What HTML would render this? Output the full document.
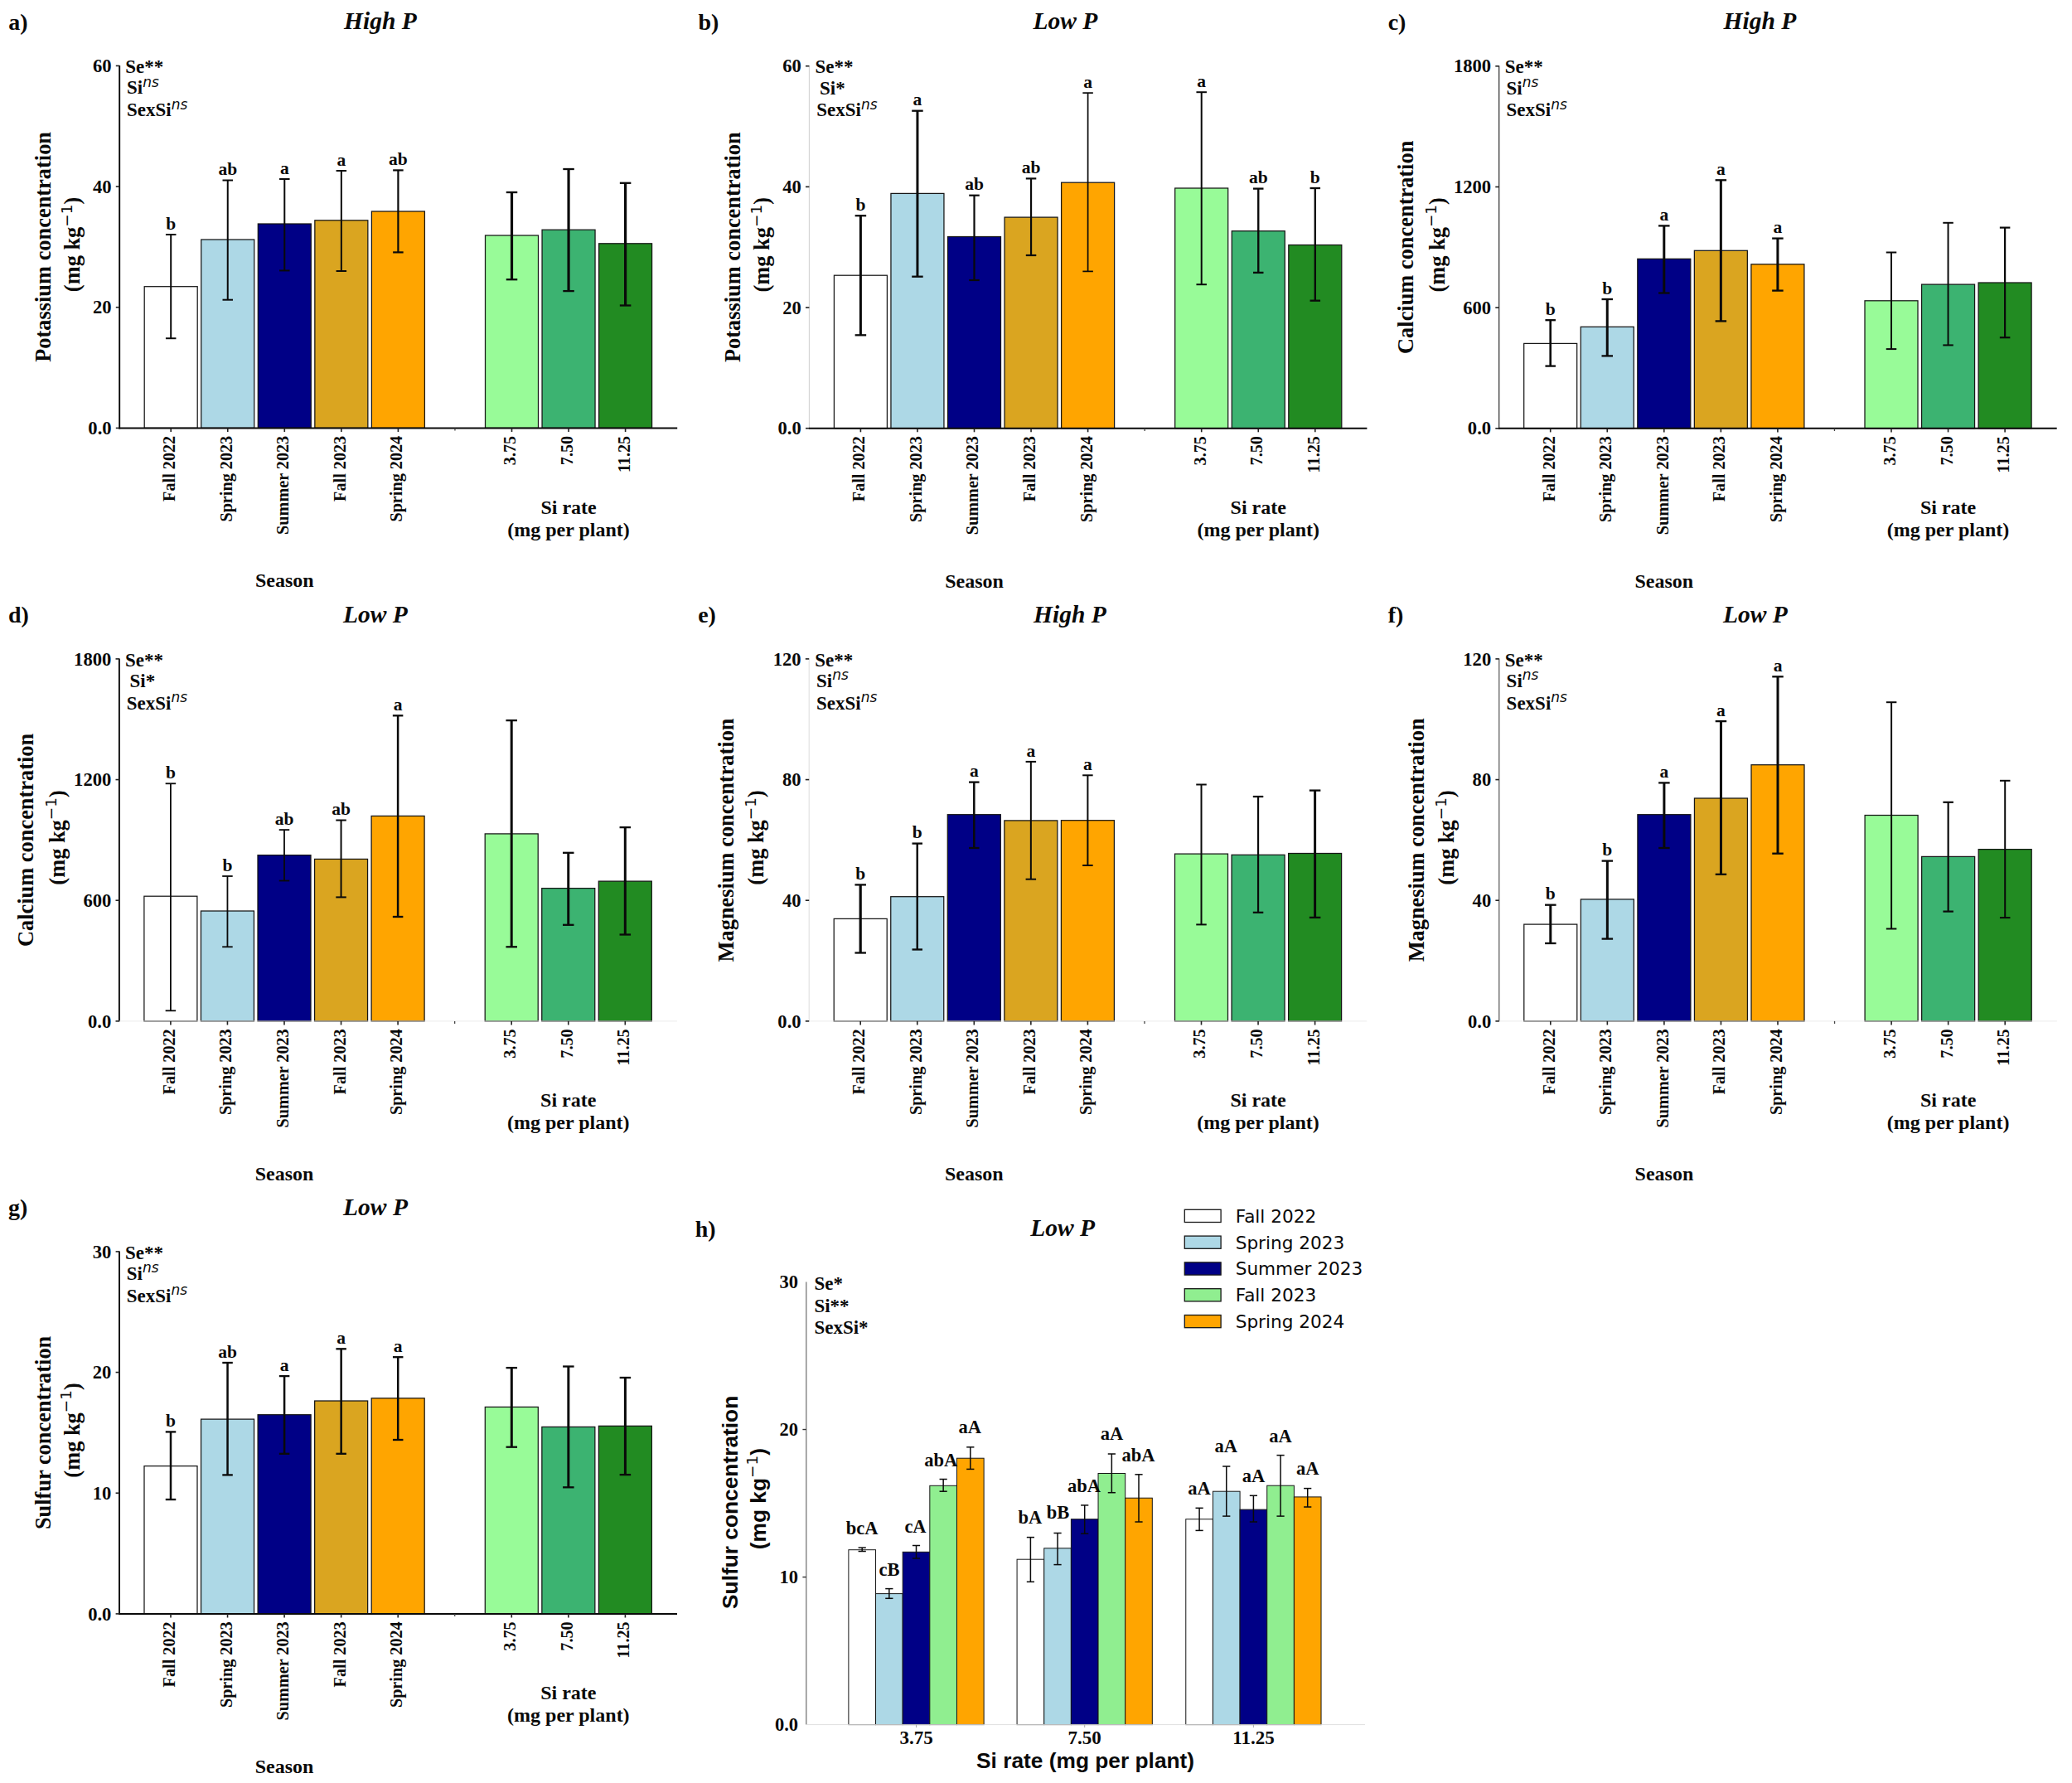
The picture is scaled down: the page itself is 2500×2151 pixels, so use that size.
<!DOCTYPE html>
<html lang="en"><head><meta charset="utf-8"><title>Figure</title>
<style>html,body{margin:0;padding:0;background:#fff;}svg{display:block;}text{white-space:pre;}</style></head>
<body>
<svg width="2500" height="2151" viewBox="0 0 2500 2151">
<rect x="0" y="0" width="2500" height="2151" fill="#ffffff"/>
<g>
<rect x="174.2" y="345.7" width="64" height="170.7" fill="#ffffff" stroke="#161616" stroke-width="1.25"/>
<rect x="242.75" y="289" width="64" height="227.4" fill="#ADD8E6" stroke="#161616" stroke-width="1.25"/>
<rect x="311.3" y="270" width="64" height="246.4" fill="#000086" stroke="#161616" stroke-width="1.25"/>
<rect x="379.85" y="265.8" width="64" height="250.6" fill="#DAA520" stroke="#161616" stroke-width="1.25"/>
<rect x="448.4" y="255" width="64" height="261.4" fill="#FFA500" stroke="#161616" stroke-width="1.25"/>
<rect x="585.5" y="284" width="64" height="232.4" fill="#98FB98" stroke="#161616" stroke-width="1.25"/>
<rect x="654.05" y="277.2" width="64" height="239.2" fill="#3CB371" stroke="#161616" stroke-width="1.25"/>
<rect x="722.6" y="293.8" width="64" height="222.6" fill="#228B22" stroke="#161616" stroke-width="1.25"/>
<line x1="206.2" y1="283" x2="206.2" y2="408.2" stroke="#0a0a0a" stroke-width="2" stroke-linecap="butt"/>
<line x1="199.95" y1="283" x2="212.45" y2="283" stroke="#0a0a0a" stroke-width="2" stroke-linecap="butt"/>
<line x1="199.95" y1="408.2" x2="212.45" y2="408.2" stroke="#0a0a0a" stroke-width="2" stroke-linecap="butt"/>
<text x="206.2" y="276.7" font-family='"Liberation Serif", "DejaVu Serif", serif' font-size="21.5" font-weight="bold" font-style="normal" text-anchor="middle" fill="#0a0a0a">b</text>
<line x1="274.75" y1="217.5" x2="274.75" y2="361.7" stroke="#0a0a0a" stroke-width="2" stroke-linecap="butt"/>
<line x1="268.5" y1="217.5" x2="281" y2="217.5" stroke="#0a0a0a" stroke-width="2" stroke-linecap="butt"/>
<line x1="268.5" y1="361.7" x2="281" y2="361.7" stroke="#0a0a0a" stroke-width="2" stroke-linecap="butt"/>
<text x="274.75" y="211.2" font-family='"Liberation Serif", "DejaVu Serif", serif' font-size="21.5" font-weight="bold" font-style="normal" text-anchor="middle" fill="#0a0a0a">ab</text>
<line x1="343.3" y1="216" x2="343.3" y2="326.4" stroke="#0a0a0a" stroke-width="2" stroke-linecap="butt"/>
<line x1="337.05" y1="216" x2="349.55" y2="216" stroke="#0a0a0a" stroke-width="2" stroke-linecap="butt"/>
<line x1="337.05" y1="326.4" x2="349.55" y2="326.4" stroke="#0a0a0a" stroke-width="2" stroke-linecap="butt"/>
<text x="343.3" y="209.7" font-family='"Liberation Serif", "DejaVu Serif", serif' font-size="21.5" font-weight="bold" font-style="normal" text-anchor="middle" fill="#0a0a0a">a</text>
<line x1="411.85" y1="206" x2="411.85" y2="327" stroke="#0a0a0a" stroke-width="2" stroke-linecap="butt"/>
<line x1="405.6" y1="206" x2="418.1" y2="206" stroke="#0a0a0a" stroke-width="2" stroke-linecap="butt"/>
<line x1="405.6" y1="327" x2="418.1" y2="327" stroke="#0a0a0a" stroke-width="2" stroke-linecap="butt"/>
<text x="411.85" y="199.7" font-family='"Liberation Serif", "DejaVu Serif", serif' font-size="21.5" font-weight="bold" font-style="normal" text-anchor="middle" fill="#0a0a0a">a</text>
<line x1="480.4" y1="205.4" x2="480.4" y2="304.4" stroke="#0a0a0a" stroke-width="2.2" stroke-linecap="butt"/>
<line x1="474.15" y1="205.4" x2="486.65" y2="205.4" stroke="#0a0a0a" stroke-width="2.2" stroke-linecap="butt"/>
<line x1="474.15" y1="304.4" x2="486.65" y2="304.4" stroke="#0a0a0a" stroke-width="2.2" stroke-linecap="butt"/>
<text x="480.4" y="199.1" font-family='"Liberation Serif", "DejaVu Serif", serif' font-size="21.5" font-weight="bold" font-style="normal" text-anchor="middle" fill="#0a0a0a">ab</text>
<line x1="617.5" y1="232" x2="617.5" y2="337.2" stroke="#0a0a0a" stroke-width="3.2" stroke-linecap="butt"/>
<line x1="610.75" y1="232" x2="624.25" y2="232" stroke="#0a0a0a" stroke-width="2.3" stroke-linecap="butt"/>
<line x1="610.75" y1="337.2" x2="624.25" y2="337.2" stroke="#0a0a0a" stroke-width="2.3" stroke-linecap="butt"/>
<line x1="686.05" y1="204" x2="686.05" y2="351.1" stroke="#0a0a0a" stroke-width="3.2" stroke-linecap="butt"/>
<line x1="679.3" y1="204" x2="692.8" y2="204" stroke="#0a0a0a" stroke-width="2.3" stroke-linecap="butt"/>
<line x1="679.3" y1="351.1" x2="692.8" y2="351.1" stroke="#0a0a0a" stroke-width="2.3" stroke-linecap="butt"/>
<line x1="754.6" y1="220.8" x2="754.6" y2="368.5" stroke="#0a0a0a" stroke-width="3.2" stroke-linecap="butt"/>
<line x1="747.85" y1="220.8" x2="761.35" y2="220.8" stroke="#0a0a0a" stroke-width="2.3" stroke-linecap="butt"/>
<line x1="747.85" y1="368.5" x2="761.35" y2="368.5" stroke="#0a0a0a" stroke-width="2.3" stroke-linecap="butt"/>
<line x1="144.2" y1="78.9" x2="144.2" y2="517.4" stroke="#0a0a0a" stroke-width="1.9" stroke-linecap="butt"/>
<line x1="143.25" y1="516.4" x2="817.2" y2="516.4" stroke="#0a0a0a" stroke-width="2" stroke-linecap="butt"/>
<line x1="139.8" y1="79.4" x2="144.2" y2="79.4" stroke="#222" stroke-width="1.6" stroke-linecap="butt"/>
<text x="134.6" y="87" font-family='"Liberation Serif", "DejaVu Serif", serif' font-size="22.6" font-weight="bold" font-style="normal" text-anchor="end" fill="#0a0a0a">60</text>
<line x1="139.8" y1="225.07" x2="144.2" y2="225.07" stroke="#222" stroke-width="1.6" stroke-linecap="butt"/>
<text x="134.6" y="232.67" font-family='"Liberation Serif", "DejaVu Serif", serif' font-size="22.6" font-weight="bold" font-style="normal" text-anchor="end" fill="#0a0a0a">40</text>
<line x1="139.8" y1="370.73" x2="144.2" y2="370.73" stroke="#222" stroke-width="1.6" stroke-linecap="butt"/>
<text x="134.6" y="378.33" font-family='"Liberation Serif", "DejaVu Serif", serif' font-size="22.6" font-weight="bold" font-style="normal" text-anchor="end" fill="#0a0a0a">20</text>
<line x1="139.8" y1="516.4" x2="144.2" y2="516.4" stroke="#222" stroke-width="1.6" stroke-linecap="butt"/>
<text x="134.6" y="524" font-family='"Liberation Serif", "DejaVu Serif", serif' font-size="22.6" font-weight="bold" font-style="normal" text-anchor="end" fill="#0a0a0a">0.0</text>
<line x1="206.2" y1="516.4" x2="206.2" y2="521" stroke="#222" stroke-width="1.6" stroke-linecap="butt"/>
<text x="211.2" y="525.8" font-family='"Liberation Serif", "DejaVu Serif", serif' font-size="20.2" font-weight="bold" font-style="normal" text-anchor="end" fill="#0a0a0a" transform="rotate(-90 211.2 525.8)">Fall 2022</text>
<line x1="274.75" y1="516.4" x2="274.75" y2="521" stroke="#222" stroke-width="1.6" stroke-linecap="butt"/>
<text x="279.75" y="525.8" font-family='"Liberation Serif", "DejaVu Serif", serif' font-size="20.2" font-weight="bold" font-style="normal" text-anchor="end" fill="#0a0a0a" transform="rotate(-90 279.75 525.8)">Spring 2023</text>
<line x1="343.3" y1="516.4" x2="343.3" y2="521" stroke="#222" stroke-width="1.6" stroke-linecap="butt"/>
<text x="348.3" y="525.8" font-family='"Liberation Serif", "DejaVu Serif", serif' font-size="20.2" font-weight="bold" font-style="normal" text-anchor="end" fill="#0a0a0a" transform="rotate(-90 348.3 525.8)">Summer 2023</text>
<line x1="411.85" y1="516.4" x2="411.85" y2="521" stroke="#222" stroke-width="1.6" stroke-linecap="butt"/>
<text x="416.85" y="525.8" font-family='"Liberation Serif", "DejaVu Serif", serif' font-size="20.2" font-weight="bold" font-style="normal" text-anchor="end" fill="#0a0a0a" transform="rotate(-90 416.85 525.8)">Fall 2023</text>
<line x1="480.4" y1="516.4" x2="480.4" y2="521" stroke="#222" stroke-width="1.6" stroke-linecap="butt"/>
<text x="485.4" y="525.8" font-family='"Liberation Serif", "DejaVu Serif", serif' font-size="20.2" font-weight="bold" font-style="normal" text-anchor="end" fill="#0a0a0a" transform="rotate(-90 485.4 525.8)">Spring 2024</text>
<line x1="617.5" y1="516.4" x2="617.5" y2="521" stroke="#222" stroke-width="1.6" stroke-linecap="butt"/>
<text x="622.5" y="525.8" font-family='"Liberation Serif", "DejaVu Serif", serif' font-size="20.2" font-weight="bold" font-style="normal" text-anchor="end" fill="#0a0a0a" transform="rotate(-90 622.5 525.8)">3.75</text>
<line x1="686.05" y1="516.4" x2="686.05" y2="521" stroke="#222" stroke-width="1.6" stroke-linecap="butt"/>
<text x="691.05" y="525.8" font-family='"Liberation Serif", "DejaVu Serif", serif' font-size="20.2" font-weight="bold" font-style="normal" text-anchor="end" fill="#0a0a0a" transform="rotate(-90 691.05 525.8)">7.50</text>
<line x1="754.6" y1="516.4" x2="754.6" y2="521" stroke="#222" stroke-width="1.6" stroke-linecap="butt"/>
<text x="759.6" y="525.8" font-family='"Liberation Serif", "DejaVu Serif", serif' font-size="20.2" font-weight="bold" font-style="normal" text-anchor="end" fill="#0a0a0a" transform="rotate(-90 759.6 525.8)">11.25</text>
<line x1="548.95" y1="516.4" x2="548.95" y2="519.6" stroke="#444" stroke-width="1.3" stroke-linecap="butt"/>
<text x="343.3" y="708.4" font-family='"Liberation Serif", "DejaVu Serif", serif' font-size="24" font-weight="bold" font-style="normal" text-anchor="middle" fill="#0a0a0a">Season</text>
<text x="686.05" y="619.6" font-family='"Liberation Serif", "DejaVu Serif", serif' font-size="24" font-weight="bold" font-style="normal" text-anchor="middle" fill="#0a0a0a">Si rate</text>
<text x="686.05" y="646.6" font-family='"Liberation Serif", "DejaVu Serif", serif' font-size="24" font-weight="bold" font-style="normal" text-anchor="middle" fill="#0a0a0a">(mg per plant)</text>
<text x="151.2" y="88" font-family='"Liberation Serif", "DejaVu Serif", serif' font-size="23" font-weight="bold" font-style="normal" text-anchor="start" fill="#0a0a0a">Se**</text>
<text x="153" y="113.2" font-family='"Liberation Serif", "DejaVu Serif", serif' font-size="23" font-weight="bold" font-style="normal" text-anchor="start" fill="#0a0a0a">Si<tspan dy="-8.5" font-family='"DejaVu Sans", "Liberation Sans", sans-serif' font-size="17" font-weight="normal" font-style="italic">ns</tspan></text>
<text x="153" y="140" font-family='"Liberation Serif", "DejaVu Serif", serif' font-size="23" font-weight="bold" font-style="normal" text-anchor="start" fill="#0a0a0a">SexSi<tspan dy="-8.5" font-family='"DejaVu Sans", "Liberation Sans", sans-serif' font-size="17" font-weight="normal" font-style="italic">ns</tspan></text>
<text x="458.9" y="35" font-family='"Liberation Serif", "DejaVu Serif", serif' font-size="29.5" font-weight="bold" font-style="italic" text-anchor="middle" fill="#0a0a0a">High P</text>
<text x="10.2" y="35.6" font-family='"Liberation Serif", "DejaVu Serif", serif' font-size="28" font-weight="bold" font-style="normal" text-anchor="start" fill="#0a0a0a">a)</text>
<text x="61.2" y="297.9" font-family='"Liberation Serif", "DejaVu Serif", serif' font-size="26.4" font-weight="bold" font-style="normal" text-anchor="middle" fill="#0a0a0a" transform="rotate(-90 61.2 297.9)">Potassium concentration</text>
<text x="96.2" y="294.9" font-family='"Liberation Serif", "DejaVu Serif", serif' font-size="26.4" font-weight="bold" font-style="normal" text-anchor="middle" fill="#0a0a0a" transform="rotate(-90 96.2 294.9)">(mg kg<tspan dy="-9.5" font-family='"DejaVu Sans", "Liberation Sans", sans-serif' font-size="18.48" font-weight="normal">−1</tspan><tspan dy="9.5">)</tspan></text>
</g>
<g>
<rect x="1006.4" y="332.2" width="64" height="184.5" fill="#ffffff" stroke="#161616" stroke-width="1.25"/>
<rect x="1074.95" y="233.4" width="64" height="283.3" fill="#ADD8E6" stroke="#161616" stroke-width="1.25"/>
<rect x="1143.5" y="285.5" width="64" height="231.2" fill="#000086" stroke="#161616" stroke-width="1.25"/>
<rect x="1212.05" y="262.1" width="64" height="254.6" fill="#DAA520" stroke="#161616" stroke-width="1.25"/>
<rect x="1280.6" y="220.2" width="64" height="296.5" fill="#FFA500" stroke="#161616" stroke-width="1.25"/>
<rect x="1417.7" y="227" width="64" height="289.7" fill="#98FB98" stroke="#161616" stroke-width="1.25"/>
<rect x="1486.25" y="278.7" width="64" height="238" fill="#3CB371" stroke="#161616" stroke-width="1.25"/>
<rect x="1554.8" y="295.5" width="64" height="221.2" fill="#228B22" stroke="#161616" stroke-width="1.25"/>
<line x1="1038.4" y1="260.2" x2="1038.4" y2="404.3" stroke="#0a0a0a" stroke-width="3" stroke-linecap="butt"/>
<line x1="1031.65" y1="260.2" x2="1045.15" y2="260.2" stroke="#0a0a0a" stroke-width="2.3" stroke-linecap="butt"/>
<line x1="1031.65" y1="404.3" x2="1045.15" y2="404.3" stroke="#0a0a0a" stroke-width="2.3" stroke-linecap="butt"/>
<text x="1038.4" y="253.9" font-family='"Liberation Serif", "DejaVu Serif", serif' font-size="21.5" font-weight="bold" font-style="normal" text-anchor="middle" fill="#0a0a0a">b</text>
<line x1="1106.95" y1="133.7" x2="1106.95" y2="333.7" stroke="#0a0a0a" stroke-width="3" stroke-linecap="butt"/>
<line x1="1100.2" y1="133.7" x2="1113.7" y2="133.7" stroke="#0a0a0a" stroke-width="2.3" stroke-linecap="butt"/>
<line x1="1100.2" y1="333.7" x2="1113.7" y2="333.7" stroke="#0a0a0a" stroke-width="2.3" stroke-linecap="butt"/>
<text x="1106.95" y="127.4" font-family='"Liberation Serif", "DejaVu Serif", serif' font-size="21.5" font-weight="bold" font-style="normal" text-anchor="middle" fill="#0a0a0a">a</text>
<line x1="1175.5" y1="235.7" x2="1175.5" y2="338" stroke="#0a0a0a" stroke-width="2.2" stroke-linecap="butt"/>
<line x1="1169.25" y1="235.7" x2="1181.75" y2="235.7" stroke="#0a0a0a" stroke-width="2.2" stroke-linecap="butt"/>
<line x1="1169.25" y1="338" x2="1181.75" y2="338" stroke="#0a0a0a" stroke-width="2.2" stroke-linecap="butt"/>
<text x="1175.5" y="229.4" font-family='"Liberation Serif", "DejaVu Serif", serif' font-size="21.5" font-weight="bold" font-style="normal" text-anchor="middle" fill="#0a0a0a">ab</text>
<line x1="1244.05" y1="215.4" x2="1244.05" y2="308" stroke="#0a0a0a" stroke-width="2.2" stroke-linecap="butt"/>
<line x1="1237.8" y1="215.4" x2="1250.3" y2="215.4" stroke="#0a0a0a" stroke-width="2.2" stroke-linecap="butt"/>
<line x1="1237.8" y1="308" x2="1250.3" y2="308" stroke="#0a0a0a" stroke-width="2.2" stroke-linecap="butt"/>
<text x="1244.05" y="209.1" font-family='"Liberation Serif", "DejaVu Serif", serif' font-size="21.5" font-weight="bold" font-style="normal" text-anchor="middle" fill="#0a0a0a">ab</text>
<line x1="1312.6" y1="112.1" x2="1312.6" y2="327.4" stroke="#0a0a0a" stroke-width="1.7" stroke-linecap="butt"/>
<line x1="1306.35" y1="112.1" x2="1318.85" y2="112.1" stroke="#0a0a0a" stroke-width="1.7" stroke-linecap="butt"/>
<line x1="1306.35" y1="327.4" x2="1318.85" y2="327.4" stroke="#0a0a0a" stroke-width="1.7" stroke-linecap="butt"/>
<text x="1312.6" y="105.8" font-family='"Liberation Serif", "DejaVu Serif", serif' font-size="21.5" font-weight="bold" font-style="normal" text-anchor="middle" fill="#0a0a0a">a</text>
<line x1="1449.7" y1="111.2" x2="1449.7" y2="343.2" stroke="#0a0a0a" stroke-width="2" stroke-linecap="butt"/>
<line x1="1443.45" y1="111.2" x2="1455.95" y2="111.2" stroke="#0a0a0a" stroke-width="2" stroke-linecap="butt"/>
<line x1="1443.45" y1="343.2" x2="1455.95" y2="343.2" stroke="#0a0a0a" stroke-width="2" stroke-linecap="butt"/>
<text x="1449.7" y="104.9" font-family='"Liberation Serif", "DejaVu Serif", serif' font-size="21.5" font-weight="bold" font-style="normal" text-anchor="middle" fill="#0a0a0a">a</text>
<line x1="1518.25" y1="227.6" x2="1518.25" y2="328.9" stroke="#0a0a0a" stroke-width="2.4" stroke-linecap="butt"/>
<line x1="1512" y1="227.6" x2="1524.5" y2="227.6" stroke="#0a0a0a" stroke-width="2.3" stroke-linecap="butt"/>
<line x1="1512" y1="328.9" x2="1524.5" y2="328.9" stroke="#0a0a0a" stroke-width="2.3" stroke-linecap="butt"/>
<text x="1518.25" y="221.3" font-family='"Liberation Serif", "DejaVu Serif", serif' font-size="21.5" font-weight="bold" font-style="normal" text-anchor="middle" fill="#0a0a0a">ab</text>
<line x1="1586.8" y1="227" x2="1586.8" y2="362.7" stroke="#0a0a0a" stroke-width="2.4" stroke-linecap="butt"/>
<line x1="1580.55" y1="227" x2="1593.05" y2="227" stroke="#0a0a0a" stroke-width="2.3" stroke-linecap="butt"/>
<line x1="1580.55" y1="362.7" x2="1593.05" y2="362.7" stroke="#0a0a0a" stroke-width="2.3" stroke-linecap="butt"/>
<text x="1586.8" y="220.7" font-family='"Liberation Serif", "DejaVu Serif", serif' font-size="21.5" font-weight="bold" font-style="normal" text-anchor="middle" fill="#0a0a0a">b</text>
<line x1="976.4" y1="79.2" x2="976.4" y2="517.7" stroke="#c8c8c8" stroke-width="0.9" stroke-linecap="butt"/>
<line x1="975.95" y1="516.7" x2="1649.4" y2="516.7" stroke="#0a0a0a" stroke-width="2" stroke-linecap="butt"/>
<line x1="972" y1="79.7" x2="976.4" y2="79.7" stroke="#222" stroke-width="1.6" stroke-linecap="butt"/>
<text x="966.8" y="87.3" font-family='"Liberation Serif", "DejaVu Serif", serif' font-size="22.6" font-weight="bold" font-style="normal" text-anchor="end" fill="#0a0a0a">60</text>
<line x1="972" y1="225.37" x2="976.4" y2="225.37" stroke="#222" stroke-width="1.6" stroke-linecap="butt"/>
<text x="966.8" y="232.97" font-family='"Liberation Serif", "DejaVu Serif", serif' font-size="22.6" font-weight="bold" font-style="normal" text-anchor="end" fill="#0a0a0a">40</text>
<line x1="972" y1="371.03" x2="976.4" y2="371.03" stroke="#222" stroke-width="1.6" stroke-linecap="butt"/>
<text x="966.8" y="378.63" font-family='"Liberation Serif", "DejaVu Serif", serif' font-size="22.6" font-weight="bold" font-style="normal" text-anchor="end" fill="#0a0a0a">20</text>
<line x1="972" y1="516.7" x2="976.4" y2="516.7" stroke="#222" stroke-width="1.6" stroke-linecap="butt"/>
<text x="966.8" y="524.3" font-family='"Liberation Serif", "DejaVu Serif", serif' font-size="22.6" font-weight="bold" font-style="normal" text-anchor="end" fill="#0a0a0a">0.0</text>
<line x1="1038.4" y1="516.7" x2="1038.4" y2="521.3" stroke="#222" stroke-width="1.6" stroke-linecap="butt"/>
<text x="1043.4" y="526.1" font-family='"Liberation Serif", "DejaVu Serif", serif' font-size="20.2" font-weight="bold" font-style="normal" text-anchor="end" fill="#0a0a0a" transform="rotate(-90 1043.4 526.1)">Fall 2022</text>
<line x1="1106.95" y1="516.7" x2="1106.95" y2="521.3" stroke="#222" stroke-width="1.6" stroke-linecap="butt"/>
<text x="1111.95" y="526.1" font-family='"Liberation Serif", "DejaVu Serif", serif' font-size="20.2" font-weight="bold" font-style="normal" text-anchor="end" fill="#0a0a0a" transform="rotate(-90 1111.95 526.1)">Spring 2023</text>
<line x1="1175.5" y1="516.7" x2="1175.5" y2="521.3" stroke="#222" stroke-width="1.6" stroke-linecap="butt"/>
<text x="1180.5" y="526.1" font-family='"Liberation Serif", "DejaVu Serif", serif' font-size="20.2" font-weight="bold" font-style="normal" text-anchor="end" fill="#0a0a0a" transform="rotate(-90 1180.5 526.1)">Summer 2023</text>
<line x1="1244.05" y1="516.7" x2="1244.05" y2="521.3" stroke="#222" stroke-width="1.6" stroke-linecap="butt"/>
<text x="1249.05" y="526.1" font-family='"Liberation Serif", "DejaVu Serif", serif' font-size="20.2" font-weight="bold" font-style="normal" text-anchor="end" fill="#0a0a0a" transform="rotate(-90 1249.05 526.1)">Fall 2023</text>
<line x1="1312.6" y1="516.7" x2="1312.6" y2="521.3" stroke="#222" stroke-width="1.6" stroke-linecap="butt"/>
<text x="1317.6" y="526.1" font-family='"Liberation Serif", "DejaVu Serif", serif' font-size="20.2" font-weight="bold" font-style="normal" text-anchor="end" fill="#0a0a0a" transform="rotate(-90 1317.6 526.1)">Spring 2024</text>
<line x1="1449.7" y1="516.7" x2="1449.7" y2="521.3" stroke="#222" stroke-width="1.6" stroke-linecap="butt"/>
<text x="1454.7" y="526.1" font-family='"Liberation Serif", "DejaVu Serif", serif' font-size="20.2" font-weight="bold" font-style="normal" text-anchor="end" fill="#0a0a0a" transform="rotate(-90 1454.7 526.1)">3.75</text>
<line x1="1518.25" y1="516.7" x2="1518.25" y2="521.3" stroke="#222" stroke-width="1.6" stroke-linecap="butt"/>
<text x="1523.25" y="526.1" font-family='"Liberation Serif", "DejaVu Serif", serif' font-size="20.2" font-weight="bold" font-style="normal" text-anchor="end" fill="#0a0a0a" transform="rotate(-90 1523.25 526.1)">7.50</text>
<line x1="1586.8" y1="516.7" x2="1586.8" y2="521.3" stroke="#222" stroke-width="1.6" stroke-linecap="butt"/>
<text x="1591.8" y="526.1" font-family='"Liberation Serif", "DejaVu Serif", serif' font-size="20.2" font-weight="bold" font-style="normal" text-anchor="end" fill="#0a0a0a" transform="rotate(-90 1591.8 526.1)">11.25</text>
<line x1="1381.15" y1="516.7" x2="1381.15" y2="519.9" stroke="#444" stroke-width="1.3" stroke-linecap="butt"/>
<text x="1175.5" y="708.7" font-family='"Liberation Serif", "DejaVu Serif", serif' font-size="24" font-weight="bold" font-style="normal" text-anchor="middle" fill="#0a0a0a">Season</text>
<text x="1518.25" y="619.9" font-family='"Liberation Serif", "DejaVu Serif", serif' font-size="24" font-weight="bold" font-style="normal" text-anchor="middle" fill="#0a0a0a">Si rate</text>
<text x="1518.25" y="646.9" font-family='"Liberation Serif", "DejaVu Serif", serif' font-size="24" font-weight="bold" font-style="normal" text-anchor="middle" fill="#0a0a0a">(mg per plant)</text>
<text x="983.4" y="88.3" font-family='"Liberation Serif", "DejaVu Serif", serif' font-size="23" font-weight="bold" font-style="normal" text-anchor="start" fill="#0a0a0a">Se**</text>
<text x="989" y="113.5" font-family='"Liberation Serif", "DejaVu Serif", serif' font-size="23" font-weight="bold" font-style="normal" text-anchor="start" fill="#0a0a0a">Si*</text>
<text x="985.2" y="140.3" font-family='"Liberation Serif", "DejaVu Serif", serif' font-size="23" font-weight="bold" font-style="normal" text-anchor="start" fill="#0a0a0a">SexSi<tspan dy="-8.5" font-family='"DejaVu Sans", "Liberation Sans", sans-serif' font-size="17" font-weight="normal" font-style="italic">ns</tspan></text>
<text x="1285.4" y="35.3" font-family='"Liberation Serif", "DejaVu Serif", serif' font-size="29.5" font-weight="bold" font-style="italic" text-anchor="middle" fill="#0a0a0a">Low P</text>
<text x="842.4" y="35.9" font-family='"Liberation Serif", "DejaVu Serif", serif' font-size="28" font-weight="bold" font-style="normal" text-anchor="start" fill="#0a0a0a">b)</text>
<text x="893.4" y="298.2" font-family='"Liberation Serif", "DejaVu Serif", serif' font-size="26.4" font-weight="bold" font-style="normal" text-anchor="middle" fill="#0a0a0a" transform="rotate(-90 893.4 298.2)">Potassium concentration</text>
<text x="928.4" y="295.2" font-family='"Liberation Serif", "DejaVu Serif", serif' font-size="26.4" font-weight="bold" font-style="normal" text-anchor="middle" fill="#0a0a0a" transform="rotate(-90 928.4 295.2)">(mg kg<tspan dy="-9.5" font-family='"DejaVu Sans", "Liberation Sans", sans-serif' font-size="18.48" font-weight="normal">−1</tspan><tspan dy="9.5">)</tspan></text>
</g>
<g>
<rect x="1838.7" y="414.4" width="64" height="102.4" fill="#ffffff" stroke="#161616" stroke-width="1.25"/>
<rect x="1907.25" y="394.3" width="64" height="122.5" fill="#ADD8E6" stroke="#161616" stroke-width="1.25"/>
<rect x="1975.8" y="312.3" width="64" height="204.5" fill="#000086" stroke="#161616" stroke-width="1.25"/>
<rect x="2044.35" y="302.3" width="64" height="214.5" fill="#DAA520" stroke="#161616" stroke-width="1.25"/>
<rect x="2112.9" y="318.8" width="64" height="198" fill="#FFA500" stroke="#161616" stroke-width="1.25"/>
<rect x="2250" y="362.8" width="64" height="154" fill="#98FB98" stroke="#161616" stroke-width="1.25"/>
<rect x="2318.55" y="343.1" width="64" height="173.7" fill="#3CB371" stroke="#161616" stroke-width="1.25"/>
<rect x="2387.1" y="341" width="64" height="175.8" fill="#228B22" stroke="#161616" stroke-width="1.25"/>
<line x1="1870.7" y1="386.2" x2="1870.7" y2="441.6" stroke="#0a0a0a" stroke-width="2.6" stroke-linecap="butt"/>
<line x1="1864.45" y1="386.2" x2="1876.95" y2="386.2" stroke="#0a0a0a" stroke-width="2.3" stroke-linecap="butt"/>
<line x1="1864.45" y1="441.6" x2="1876.95" y2="441.6" stroke="#0a0a0a" stroke-width="2.3" stroke-linecap="butt"/>
<text x="1870.7" y="379.9" font-family='"Liberation Serif", "DejaVu Serif", serif' font-size="21.5" font-weight="bold" font-style="normal" text-anchor="middle" fill="#0a0a0a">b</text>
<line x1="1939.25" y1="361" x2="1939.25" y2="429.4" stroke="#0a0a0a" stroke-width="3" stroke-linecap="butt"/>
<line x1="1932.5" y1="361" x2="1946" y2="361" stroke="#0a0a0a" stroke-width="2.3" stroke-linecap="butt"/>
<line x1="1932.5" y1="429.4" x2="1946" y2="429.4" stroke="#0a0a0a" stroke-width="2.3" stroke-linecap="butt"/>
<text x="1939.25" y="354.7" font-family='"Liberation Serif", "DejaVu Serif", serif' font-size="21.5" font-weight="bold" font-style="normal" text-anchor="middle" fill="#0a0a0a">b</text>
<line x1="2007.8" y1="272.4" x2="2007.8" y2="353.5" stroke="#0a0a0a" stroke-width="3" stroke-linecap="butt"/>
<line x1="2001.05" y1="272.4" x2="2014.55" y2="272.4" stroke="#0a0a0a" stroke-width="2.3" stroke-linecap="butt"/>
<line x1="2001.05" y1="353.5" x2="2014.55" y2="353.5" stroke="#0a0a0a" stroke-width="2.3" stroke-linecap="butt"/>
<text x="2007.8" y="266.1" font-family='"Liberation Serif", "DejaVu Serif", serif' font-size="21.5" font-weight="bold" font-style="normal" text-anchor="middle" fill="#0a0a0a">a</text>
<line x1="2076.35" y1="217.3" x2="2076.35" y2="387.4" stroke="#0a0a0a" stroke-width="3" stroke-linecap="butt"/>
<line x1="2069.6" y1="217.3" x2="2083.1" y2="217.3" stroke="#0a0a0a" stroke-width="2.3" stroke-linecap="butt"/>
<line x1="2069.6" y1="387.4" x2="2083.1" y2="387.4" stroke="#0a0a0a" stroke-width="2.3" stroke-linecap="butt"/>
<text x="2076.35" y="211" font-family='"Liberation Serif", "DejaVu Serif", serif' font-size="21.5" font-weight="bold" font-style="normal" text-anchor="middle" fill="#0a0a0a">a</text>
<line x1="2144.9" y1="287.6" x2="2144.9" y2="350.6" stroke="#0a0a0a" stroke-width="3" stroke-linecap="butt"/>
<line x1="2138.15" y1="287.6" x2="2151.65" y2="287.6" stroke="#0a0a0a" stroke-width="2.3" stroke-linecap="butt"/>
<line x1="2138.15" y1="350.6" x2="2151.65" y2="350.6" stroke="#0a0a0a" stroke-width="2.3" stroke-linecap="butt"/>
<text x="2144.9" y="281.3" font-family='"Liberation Serif", "DejaVu Serif", serif' font-size="21.5" font-weight="bold" font-style="normal" text-anchor="middle" fill="#0a0a0a">a</text>
<line x1="2282" y1="304.5" x2="2282" y2="421.1" stroke="#0a0a0a" stroke-width="2" stroke-linecap="butt"/>
<line x1="2275.75" y1="304.5" x2="2288.25" y2="304.5" stroke="#0a0a0a" stroke-width="2" stroke-linecap="butt"/>
<line x1="2275.75" y1="421.1" x2="2288.25" y2="421.1" stroke="#0a0a0a" stroke-width="2" stroke-linecap="butt"/>
<line x1="2350.55" y1="268.8" x2="2350.55" y2="416.4" stroke="#0a0a0a" stroke-width="2" stroke-linecap="butt"/>
<line x1="2344.3" y1="268.8" x2="2356.8" y2="268.8" stroke="#0a0a0a" stroke-width="2" stroke-linecap="butt"/>
<line x1="2344.3" y1="416.4" x2="2356.8" y2="416.4" stroke="#0a0a0a" stroke-width="2" stroke-linecap="butt"/>
<line x1="2419.1" y1="274.6" x2="2419.1" y2="407.2" stroke="#0a0a0a" stroke-width="2.2" stroke-linecap="butt"/>
<line x1="2412.85" y1="274.6" x2="2425.35" y2="274.6" stroke="#0a0a0a" stroke-width="2.2" stroke-linecap="butt"/>
<line x1="2412.85" y1="407.2" x2="2425.35" y2="407.2" stroke="#0a0a0a" stroke-width="2.2" stroke-linecap="butt"/>
<line x1="1808.7" y1="79.3" x2="1808.7" y2="517.8" stroke="#2a2a2a" stroke-width="1.2" stroke-linecap="butt"/>
<line x1="1808.1" y1="516.8" x2="2481.7" y2="516.8" stroke="#0a0a0a" stroke-width="2" stroke-linecap="butt"/>
<line x1="1804.3" y1="79.8" x2="1808.7" y2="79.8" stroke="#222" stroke-width="1.6" stroke-linecap="butt"/>
<text x="1799.1" y="87.4" font-family='"Liberation Serif", "DejaVu Serif", serif' font-size="22.6" font-weight="bold" font-style="normal" text-anchor="end" fill="#0a0a0a">1800</text>
<line x1="1804.3" y1="225.47" x2="1808.7" y2="225.47" stroke="#222" stroke-width="1.6" stroke-linecap="butt"/>
<text x="1799.1" y="233.07" font-family='"Liberation Serif", "DejaVu Serif", serif' font-size="22.6" font-weight="bold" font-style="normal" text-anchor="end" fill="#0a0a0a">1200</text>
<line x1="1804.3" y1="371.13" x2="1808.7" y2="371.13" stroke="#222" stroke-width="1.6" stroke-linecap="butt"/>
<text x="1799.1" y="378.73" font-family='"Liberation Serif", "DejaVu Serif", serif' font-size="22.6" font-weight="bold" font-style="normal" text-anchor="end" fill="#0a0a0a">600</text>
<line x1="1804.3" y1="516.8" x2="1808.7" y2="516.8" stroke="#222" stroke-width="1.6" stroke-linecap="butt"/>
<text x="1799.1" y="524.4" font-family='"Liberation Serif", "DejaVu Serif", serif' font-size="22.6" font-weight="bold" font-style="normal" text-anchor="end" fill="#0a0a0a">0.0</text>
<line x1="1870.7" y1="516.8" x2="1870.7" y2="521.4" stroke="#222" stroke-width="1.6" stroke-linecap="butt"/>
<text x="1875.7" y="526.2" font-family='"Liberation Serif", "DejaVu Serif", serif' font-size="20.2" font-weight="bold" font-style="normal" text-anchor="end" fill="#0a0a0a" transform="rotate(-90 1875.7 526.2)">Fall 2022</text>
<line x1="1939.25" y1="516.8" x2="1939.25" y2="521.4" stroke="#222" stroke-width="1.6" stroke-linecap="butt"/>
<text x="1944.25" y="526.2" font-family='"Liberation Serif", "DejaVu Serif", serif' font-size="20.2" font-weight="bold" font-style="normal" text-anchor="end" fill="#0a0a0a" transform="rotate(-90 1944.25 526.2)">Spring 2023</text>
<line x1="2007.8" y1="516.8" x2="2007.8" y2="521.4" stroke="#222" stroke-width="1.6" stroke-linecap="butt"/>
<text x="2012.8" y="526.2" font-family='"Liberation Serif", "DejaVu Serif", serif' font-size="20.2" font-weight="bold" font-style="normal" text-anchor="end" fill="#0a0a0a" transform="rotate(-90 2012.8 526.2)">Summer 2023</text>
<line x1="2076.35" y1="516.8" x2="2076.35" y2="521.4" stroke="#222" stroke-width="1.6" stroke-linecap="butt"/>
<text x="2081.35" y="526.2" font-family='"Liberation Serif", "DejaVu Serif", serif' font-size="20.2" font-weight="bold" font-style="normal" text-anchor="end" fill="#0a0a0a" transform="rotate(-90 2081.35 526.2)">Fall 2023</text>
<line x1="2144.9" y1="516.8" x2="2144.9" y2="521.4" stroke="#222" stroke-width="1.6" stroke-linecap="butt"/>
<text x="2149.9" y="526.2" font-family='"Liberation Serif", "DejaVu Serif", serif' font-size="20.2" font-weight="bold" font-style="normal" text-anchor="end" fill="#0a0a0a" transform="rotate(-90 2149.9 526.2)">Spring 2024</text>
<line x1="2282" y1="516.8" x2="2282" y2="521.4" stroke="#222" stroke-width="1.6" stroke-linecap="butt"/>
<text x="2287" y="526.2" font-family='"Liberation Serif", "DejaVu Serif", serif' font-size="20.2" font-weight="bold" font-style="normal" text-anchor="end" fill="#0a0a0a" transform="rotate(-90 2287 526.2)">3.75</text>
<line x1="2350.55" y1="516.8" x2="2350.55" y2="521.4" stroke="#222" stroke-width="1.6" stroke-linecap="butt"/>
<text x="2355.55" y="526.2" font-family='"Liberation Serif", "DejaVu Serif", serif' font-size="20.2" font-weight="bold" font-style="normal" text-anchor="end" fill="#0a0a0a" transform="rotate(-90 2355.55 526.2)">7.50</text>
<line x1="2419.1" y1="516.8" x2="2419.1" y2="521.4" stroke="#222" stroke-width="1.6" stroke-linecap="butt"/>
<text x="2424.1" y="526.2" font-family='"Liberation Serif", "DejaVu Serif", serif' font-size="20.2" font-weight="bold" font-style="normal" text-anchor="end" fill="#0a0a0a" transform="rotate(-90 2424.1 526.2)">11.25</text>
<line x1="2213.45" y1="516.8" x2="2213.45" y2="520" stroke="#444" stroke-width="1.3" stroke-linecap="butt"/>
<text x="2007.8" y="708.8" font-family='"Liberation Serif", "DejaVu Serif", serif' font-size="24" font-weight="bold" font-style="normal" text-anchor="middle" fill="#0a0a0a">Season</text>
<text x="2350.55" y="620" font-family='"Liberation Serif", "DejaVu Serif", serif' font-size="24" font-weight="bold" font-style="normal" text-anchor="middle" fill="#0a0a0a">Si rate</text>
<text x="2350.55" y="647" font-family='"Liberation Serif", "DejaVu Serif", serif' font-size="24" font-weight="bold" font-style="normal" text-anchor="middle" fill="#0a0a0a">(mg per plant)</text>
<text x="1815.7" y="88.4" font-family='"Liberation Serif", "DejaVu Serif", serif' font-size="23" font-weight="bold" font-style="normal" text-anchor="start" fill="#0a0a0a">Se**</text>
<text x="1817.5" y="113.6" font-family='"Liberation Serif", "DejaVu Serif", serif' font-size="23" font-weight="bold" font-style="normal" text-anchor="start" fill="#0a0a0a">Si<tspan dy="-8.5" font-family='"DejaVu Sans", "Liberation Sans", sans-serif' font-size="17" font-weight="normal" font-style="italic">ns</tspan></text>
<text x="1817.5" y="140.4" font-family='"Liberation Serif", "DejaVu Serif", serif' font-size="23" font-weight="bold" font-style="normal" text-anchor="start" fill="#0a0a0a">SexSi<tspan dy="-8.5" font-family='"DejaVu Sans", "Liberation Sans", sans-serif' font-size="17" font-weight="normal" font-style="italic">ns</tspan></text>
<text x="2123.4" y="35.4" font-family='"Liberation Serif", "DejaVu Serif", serif' font-size="29.5" font-weight="bold" font-style="italic" text-anchor="middle" fill="#0a0a0a">High P</text>
<text x="1674.7" y="36" font-family='"Liberation Serif", "DejaVu Serif", serif' font-size="28" font-weight="bold" font-style="normal" text-anchor="start" fill="#0a0a0a">c)</text>
<text x="1704.7" y="298.3" font-family='"Liberation Serif", "DejaVu Serif", serif' font-size="26.4" font-weight="bold" font-style="normal" text-anchor="middle" fill="#0a0a0a" transform="rotate(-90 1704.7 298.3)">Calcium concentration</text>
<text x="1742.7" y="295.3" font-family='"Liberation Serif", "DejaVu Serif", serif' font-size="26.4" font-weight="bold" font-style="normal" text-anchor="middle" fill="#0a0a0a" transform="rotate(-90 1742.7 295.3)">(mg kg<tspan dy="-9.5" font-family='"DejaVu Sans", "Liberation Sans", sans-serif' font-size="18.48" font-weight="normal">−1</tspan><tspan dy="9.5">)</tspan></text>
</g>
<g>
<rect x="173.9" y="1081.2" width="64" height="150.7" fill="#ffffff" stroke="#161616" stroke-width="1.25"/>
<rect x="242.45" y="1099" width="64" height="132.9" fill="#ADD8E6" stroke="#161616" stroke-width="1.25"/>
<rect x="311" y="1031.6" width="64" height="200.3" fill="#000086" stroke="#161616" stroke-width="1.25"/>
<rect x="379.55" y="1036.4" width="64" height="195.5" fill="#DAA520" stroke="#161616" stroke-width="1.25"/>
<rect x="448.1" y="984.4" width="64" height="247.5" fill="#FFA500" stroke="#161616" stroke-width="1.25"/>
<rect x="585.2" y="1005.9" width="64" height="226" fill="#98FB98" stroke="#161616" stroke-width="1.25"/>
<rect x="653.75" y="1071.6" width="64" height="160.3" fill="#3CB371" stroke="#161616" stroke-width="1.25"/>
<rect x="722.3" y="1063.1" width="64" height="168.8" fill="#228B22" stroke="#161616" stroke-width="1.25"/>
<line x1="205.9" y1="945.3" x2="205.9" y2="1219.3" stroke="#0a0a0a" stroke-width="1.8" stroke-linecap="butt"/>
<line x1="199.65" y1="945.3" x2="212.15" y2="945.3" stroke="#0a0a0a" stroke-width="1.8" stroke-linecap="butt"/>
<line x1="199.65" y1="1219.3" x2="212.15" y2="1219.3" stroke="#0a0a0a" stroke-width="1.8" stroke-linecap="butt"/>
<text x="205.9" y="939" font-family='"Liberation Serif", "DejaVu Serif", serif' font-size="21.5" font-weight="bold" font-style="normal" text-anchor="middle" fill="#0a0a0a">b</text>
<line x1="274.45" y1="1057" x2="274.45" y2="1142.3" stroke="#0a0a0a" stroke-width="1.8" stroke-linecap="butt"/>
<line x1="268.2" y1="1057" x2="280.7" y2="1057" stroke="#0a0a0a" stroke-width="1.8" stroke-linecap="butt"/>
<line x1="268.2" y1="1142.3" x2="280.7" y2="1142.3" stroke="#0a0a0a" stroke-width="1.8" stroke-linecap="butt"/>
<text x="274.45" y="1050.7" font-family='"Liberation Serif", "DejaVu Serif", serif' font-size="21.5" font-weight="bold" font-style="normal" text-anchor="middle" fill="#0a0a0a">b</text>
<line x1="343" y1="1001.1" x2="343" y2="1062.5" stroke="#0a0a0a" stroke-width="1.8" stroke-linecap="butt"/>
<line x1="336.75" y1="1001.1" x2="349.25" y2="1001.1" stroke="#0a0a0a" stroke-width="1.8" stroke-linecap="butt"/>
<line x1="336.75" y1="1062.5" x2="349.25" y2="1062.5" stroke="#0a0a0a" stroke-width="1.8" stroke-linecap="butt"/>
<text x="343" y="994.8" font-family='"Liberation Serif", "DejaVu Serif", serif' font-size="21.5" font-weight="bold" font-style="normal" text-anchor="middle" fill="#0a0a0a">ab</text>
<line x1="411.55" y1="989.5" x2="411.55" y2="1082.4" stroke="#0a0a0a" stroke-width="2" stroke-linecap="butt"/>
<line x1="405.3" y1="989.5" x2="417.8" y2="989.5" stroke="#0a0a0a" stroke-width="2" stroke-linecap="butt"/>
<line x1="405.3" y1="1082.4" x2="417.8" y2="1082.4" stroke="#0a0a0a" stroke-width="2" stroke-linecap="butt"/>
<text x="411.55" y="983.2" font-family='"Liberation Serif", "DejaVu Serif", serif' font-size="21.5" font-weight="bold" font-style="normal" text-anchor="middle" fill="#0a0a0a">ab</text>
<line x1="480.1" y1="863.3" x2="480.1" y2="1106" stroke="#0a0a0a" stroke-width="2.5" stroke-linecap="butt"/>
<line x1="473.85" y1="863.3" x2="486.35" y2="863.3" stroke="#0a0a0a" stroke-width="2.3" stroke-linecap="butt"/>
<line x1="473.85" y1="1106" x2="486.35" y2="1106" stroke="#0a0a0a" stroke-width="2.3" stroke-linecap="butt"/>
<text x="480.1" y="857" font-family='"Liberation Serif", "DejaVu Serif", serif' font-size="21.5" font-weight="bold" font-style="normal" text-anchor="middle" fill="#0a0a0a">a</text>
<line x1="617.2" y1="869.1" x2="617.2" y2="1142.3" stroke="#0a0a0a" stroke-width="3" stroke-linecap="butt"/>
<line x1="610.45" y1="869.1" x2="623.95" y2="869.1" stroke="#0a0a0a" stroke-width="2.3" stroke-linecap="butt"/>
<line x1="610.45" y1="1142.3" x2="623.95" y2="1142.3" stroke="#0a0a0a" stroke-width="2.3" stroke-linecap="butt"/>
<line x1="685.75" y1="1028.8" x2="685.75" y2="1115.8" stroke="#0a0a0a" stroke-width="3" stroke-linecap="butt"/>
<line x1="679" y1="1028.8" x2="692.5" y2="1028.8" stroke="#0a0a0a" stroke-width="2.3" stroke-linecap="butt"/>
<line x1="679" y1="1115.8" x2="692.5" y2="1115.8" stroke="#0a0a0a" stroke-width="2.3" stroke-linecap="butt"/>
<line x1="754.3" y1="998.1" x2="754.3" y2="1127.5" stroke="#0a0a0a" stroke-width="3" stroke-linecap="butt"/>
<line x1="747.55" y1="998.1" x2="761.05" y2="998.1" stroke="#0a0a0a" stroke-width="2.3" stroke-linecap="butt"/>
<line x1="747.55" y1="1127.5" x2="761.05" y2="1127.5" stroke="#0a0a0a" stroke-width="2.3" stroke-linecap="butt"/>
<line x1="143.9" y1="794.4" x2="143.9" y2="1232.3" stroke="#0a0a0a" stroke-width="1.9" stroke-linecap="butt"/>
<line x1="142.95" y1="1231.9" x2="816.9" y2="1231.9" stroke="#e6e6e6" stroke-width="0.8" stroke-linecap="butt"/>
<line x1="139.5" y1="794.9" x2="143.9" y2="794.9" stroke="#222" stroke-width="1.6" stroke-linecap="butt"/>
<text x="134.3" y="802.5" font-family='"Liberation Serif", "DejaVu Serif", serif' font-size="22.6" font-weight="bold" font-style="normal" text-anchor="end" fill="#0a0a0a">1800</text>
<line x1="139.5" y1="940.57" x2="143.9" y2="940.57" stroke="#222" stroke-width="1.6" stroke-linecap="butt"/>
<text x="134.3" y="948.17" font-family='"Liberation Serif", "DejaVu Serif", serif' font-size="22.6" font-weight="bold" font-style="normal" text-anchor="end" fill="#0a0a0a">1200</text>
<line x1="139.5" y1="1086.23" x2="143.9" y2="1086.23" stroke="#222" stroke-width="1.6" stroke-linecap="butt"/>
<text x="134.3" y="1093.83" font-family='"Liberation Serif", "DejaVu Serif", serif' font-size="22.6" font-weight="bold" font-style="normal" text-anchor="end" fill="#0a0a0a">600</text>
<line x1="139.5" y1="1231.9" x2="143.9" y2="1231.9" stroke="#222" stroke-width="1.6" stroke-linecap="butt"/>
<text x="134.3" y="1239.5" font-family='"Liberation Serif", "DejaVu Serif", serif' font-size="22.6" font-weight="bold" font-style="normal" text-anchor="end" fill="#0a0a0a">0.0</text>
<line x1="205.9" y1="1231.9" x2="205.9" y2="1236.5" stroke="#222" stroke-width="1.6" stroke-linecap="butt"/>
<text x="210.9" y="1241.3" font-family='"Liberation Serif", "DejaVu Serif", serif' font-size="20.2" font-weight="bold" font-style="normal" text-anchor="end" fill="#0a0a0a" transform="rotate(-90 210.9 1241.3)">Fall 2022</text>
<line x1="274.45" y1="1231.9" x2="274.45" y2="1236.5" stroke="#222" stroke-width="1.6" stroke-linecap="butt"/>
<text x="279.45" y="1241.3" font-family='"Liberation Serif", "DejaVu Serif", serif' font-size="20.2" font-weight="bold" font-style="normal" text-anchor="end" fill="#0a0a0a" transform="rotate(-90 279.45 1241.3)">Spring 2023</text>
<line x1="343" y1="1231.9" x2="343" y2="1236.5" stroke="#222" stroke-width="1.6" stroke-linecap="butt"/>
<text x="348" y="1241.3" font-family='"Liberation Serif", "DejaVu Serif", serif' font-size="20.2" font-weight="bold" font-style="normal" text-anchor="end" fill="#0a0a0a" transform="rotate(-90 348 1241.3)">Summer 2023</text>
<line x1="411.55" y1="1231.9" x2="411.55" y2="1236.5" stroke="#222" stroke-width="1.6" stroke-linecap="butt"/>
<text x="416.55" y="1241.3" font-family='"Liberation Serif", "DejaVu Serif", serif' font-size="20.2" font-weight="bold" font-style="normal" text-anchor="end" fill="#0a0a0a" transform="rotate(-90 416.55 1241.3)">Fall 2023</text>
<line x1="480.1" y1="1231.9" x2="480.1" y2="1236.5" stroke="#222" stroke-width="1.6" stroke-linecap="butt"/>
<text x="485.1" y="1241.3" font-family='"Liberation Serif", "DejaVu Serif", serif' font-size="20.2" font-weight="bold" font-style="normal" text-anchor="end" fill="#0a0a0a" transform="rotate(-90 485.1 1241.3)">Spring 2024</text>
<line x1="617.2" y1="1231.9" x2="617.2" y2="1236.5" stroke="#222" stroke-width="1.6" stroke-linecap="butt"/>
<text x="622.2" y="1241.3" font-family='"Liberation Serif", "DejaVu Serif", serif' font-size="20.2" font-weight="bold" font-style="normal" text-anchor="end" fill="#0a0a0a" transform="rotate(-90 622.2 1241.3)">3.75</text>
<line x1="685.75" y1="1231.9" x2="685.75" y2="1236.5" stroke="#222" stroke-width="1.6" stroke-linecap="butt"/>
<text x="690.75" y="1241.3" font-family='"Liberation Serif", "DejaVu Serif", serif' font-size="20.2" font-weight="bold" font-style="normal" text-anchor="end" fill="#0a0a0a" transform="rotate(-90 690.75 1241.3)">7.50</text>
<line x1="754.3" y1="1231.9" x2="754.3" y2="1236.5" stroke="#222" stroke-width="1.6" stroke-linecap="butt"/>
<text x="759.3" y="1241.3" font-family='"Liberation Serif", "DejaVu Serif", serif' font-size="20.2" font-weight="bold" font-style="normal" text-anchor="end" fill="#0a0a0a" transform="rotate(-90 759.3 1241.3)">11.25</text>
<line x1="548.65" y1="1231.9" x2="548.65" y2="1235.1" stroke="#444" stroke-width="1.3" stroke-linecap="butt"/>
<text x="343" y="1423.9" font-family='"Liberation Serif", "DejaVu Serif", serif' font-size="24" font-weight="bold" font-style="normal" text-anchor="middle" fill="#0a0a0a">Season</text>
<text x="685.75" y="1335.1" font-family='"Liberation Serif", "DejaVu Serif", serif' font-size="24" font-weight="bold" font-style="normal" text-anchor="middle" fill="#0a0a0a">Si rate</text>
<text x="685.75" y="1362.1" font-family='"Liberation Serif", "DejaVu Serif", serif' font-size="24" font-weight="bold" font-style="normal" text-anchor="middle" fill="#0a0a0a">(mg per plant)</text>
<text x="150.9" y="803.5" font-family='"Liberation Serif", "DejaVu Serif", serif' font-size="23" font-weight="bold" font-style="normal" text-anchor="start" fill="#0a0a0a">Se**</text>
<text x="156.5" y="828.7" font-family='"Liberation Serif", "DejaVu Serif", serif' font-size="23" font-weight="bold" font-style="normal" text-anchor="start" fill="#0a0a0a">Si*</text>
<text x="152.7" y="855.5" font-family='"Liberation Serif", "DejaVu Serif", serif' font-size="23" font-weight="bold" font-style="normal" text-anchor="start" fill="#0a0a0a">SexSi<tspan dy="-8.5" font-family='"DejaVu Sans", "Liberation Sans", sans-serif' font-size="17" font-weight="normal" font-style="italic">ns</tspan></text>
<text x="452.9" y="750.5" font-family='"Liberation Serif", "DejaVu Serif", serif' font-size="29.5" font-weight="bold" font-style="italic" text-anchor="middle" fill="#0a0a0a">Low P</text>
<text x="9.9" y="751.1" font-family='"Liberation Serif", "DejaVu Serif", serif' font-size="28" font-weight="bold" font-style="normal" text-anchor="start" fill="#0a0a0a">d)</text>
<text x="39.9" y="1013.4" font-family='"Liberation Serif", "DejaVu Serif", serif' font-size="26.4" font-weight="bold" font-style="normal" text-anchor="middle" fill="#0a0a0a" transform="rotate(-90 39.9 1013.4)">Calcium concentration</text>
<text x="77.9" y="1010.4" font-family='"Liberation Serif", "DejaVu Serif", serif' font-size="26.4" font-weight="bold" font-style="normal" text-anchor="middle" fill="#0a0a0a" transform="rotate(-90 77.9 1010.4)">(mg kg<tspan dy="-9.5" font-family='"DejaVu Sans", "Liberation Sans", sans-serif' font-size="18.48" font-weight="normal">−1</tspan><tspan dy="9.5">)</tspan></text>
</g>
<g>
<rect x="1006.2" y="1108.4" width="64" height="123.5" fill="#ffffff" stroke="#161616" stroke-width="1.25"/>
<rect x="1074.75" y="1081.7" width="64" height="150.2" fill="#ADD8E6" stroke="#161616" stroke-width="1.25"/>
<rect x="1143.3" y="982.7" width="64" height="249.2" fill="#000086" stroke="#161616" stroke-width="1.25"/>
<rect x="1211.85" y="989.9" width="64" height="242" fill="#DAA520" stroke="#161616" stroke-width="1.25"/>
<rect x="1280.4" y="989.7" width="64" height="242.2" fill="#FFA500" stroke="#161616" stroke-width="1.25"/>
<rect x="1417.5" y="1030.1" width="64" height="201.8" fill="#98FB98" stroke="#161616" stroke-width="1.25"/>
<rect x="1486.05" y="1031.3" width="64" height="200.6" fill="#3CB371" stroke="#161616" stroke-width="1.25"/>
<rect x="1554.6" y="1029.5" width="64" height="202.4" fill="#228B22" stroke="#161616" stroke-width="1.25"/>
<line x1="1038.2" y1="1067.4" x2="1038.2" y2="1149.5" stroke="#0a0a0a" stroke-width="3.2" stroke-linecap="butt"/>
<line x1="1031.45" y1="1067.4" x2="1044.95" y2="1067.4" stroke="#0a0a0a" stroke-width="2.3" stroke-linecap="butt"/>
<line x1="1031.45" y1="1149.5" x2="1044.95" y2="1149.5" stroke="#0a0a0a" stroke-width="2.3" stroke-linecap="butt"/>
<text x="1038.2" y="1061.1" font-family='"Liberation Serif", "DejaVu Serif", serif' font-size="21.5" font-weight="bold" font-style="normal" text-anchor="middle" fill="#0a0a0a">b</text>
<line x1="1106.75" y1="1017.6" x2="1106.75" y2="1145.5" stroke="#0a0a0a" stroke-width="2.5" stroke-linecap="butt"/>
<line x1="1100.5" y1="1017.6" x2="1113" y2="1017.6" stroke="#0a0a0a" stroke-width="2.3" stroke-linecap="butt"/>
<line x1="1100.5" y1="1145.5" x2="1113" y2="1145.5" stroke="#0a0a0a" stroke-width="2.3" stroke-linecap="butt"/>
<text x="1106.75" y="1011.3" font-family='"Liberation Serif", "DejaVu Serif", serif' font-size="21.5" font-weight="bold" font-style="normal" text-anchor="middle" fill="#0a0a0a">b</text>
<line x1="1175.3" y1="943.6" x2="1175.3" y2="1023" stroke="#0a0a0a" stroke-width="2.5" stroke-linecap="butt"/>
<line x1="1169.05" y1="943.6" x2="1181.55" y2="943.6" stroke="#0a0a0a" stroke-width="2.3" stroke-linecap="butt"/>
<line x1="1169.05" y1="1023" x2="1181.55" y2="1023" stroke="#0a0a0a" stroke-width="2.3" stroke-linecap="butt"/>
<text x="1175.3" y="937.3" font-family='"Liberation Serif", "DejaVu Serif", serif' font-size="21.5" font-weight="bold" font-style="normal" text-anchor="middle" fill="#0a0a0a">a</text>
<line x1="1243.85" y1="918.9" x2="1243.85" y2="1060.7" stroke="#0a0a0a" stroke-width="2" stroke-linecap="butt"/>
<line x1="1237.6" y1="918.9" x2="1250.1" y2="918.9" stroke="#0a0a0a" stroke-width="2" stroke-linecap="butt"/>
<line x1="1237.6" y1="1060.7" x2="1250.1" y2="1060.7" stroke="#0a0a0a" stroke-width="2" stroke-linecap="butt"/>
<text x="1243.85" y="912.6" font-family='"Liberation Serif", "DejaVu Serif", serif' font-size="21.5" font-weight="bold" font-style="normal" text-anchor="middle" fill="#0a0a0a">a</text>
<line x1="1312.4" y1="935.3" x2="1312.4" y2="1044" stroke="#0a0a0a" stroke-width="2" stroke-linecap="butt"/>
<line x1="1306.15" y1="935.3" x2="1318.65" y2="935.3" stroke="#0a0a0a" stroke-width="2" stroke-linecap="butt"/>
<line x1="1306.15" y1="1044" x2="1318.65" y2="1044" stroke="#0a0a0a" stroke-width="2" stroke-linecap="butt"/>
<text x="1312.4" y="929" font-family='"Liberation Serif", "DejaVu Serif", serif' font-size="21.5" font-weight="bold" font-style="normal" text-anchor="middle" fill="#0a0a0a">a</text>
<line x1="1449.5" y1="946.5" x2="1449.5" y2="1115.4" stroke="#0a0a0a" stroke-width="2" stroke-linecap="butt"/>
<line x1="1443.25" y1="946.5" x2="1455.75" y2="946.5" stroke="#0a0a0a" stroke-width="2" stroke-linecap="butt"/>
<line x1="1443.25" y1="1115.4" x2="1455.75" y2="1115.4" stroke="#0a0a0a" stroke-width="2" stroke-linecap="butt"/>
<line x1="1518.05" y1="961" x2="1518.05" y2="1100.8" stroke="#0a0a0a" stroke-width="2.2" stroke-linecap="butt"/>
<line x1="1511.8" y1="961" x2="1524.3" y2="961" stroke="#0a0a0a" stroke-width="2.2" stroke-linecap="butt"/>
<line x1="1511.8" y1="1100.8" x2="1524.3" y2="1100.8" stroke="#0a0a0a" stroke-width="2.2" stroke-linecap="butt"/>
<line x1="1586.6" y1="953.6" x2="1586.6" y2="1106.9" stroke="#0a0a0a" stroke-width="3" stroke-linecap="butt"/>
<line x1="1579.85" y1="953.6" x2="1593.35" y2="953.6" stroke="#0a0a0a" stroke-width="2.3" stroke-linecap="butt"/>
<line x1="1579.85" y1="1106.9" x2="1593.35" y2="1106.9" stroke="#0a0a0a" stroke-width="2.3" stroke-linecap="butt"/>
<line x1="976.2" y1="794.4" x2="976.2" y2="1232.3" stroke="#d4d4d4" stroke-width="0.8" stroke-linecap="butt"/>
<line x1="975.8" y1="1231.9" x2="1649.2" y2="1231.9" stroke="#e6e6e6" stroke-width="0.8" stroke-linecap="butt"/>
<line x1="971.8" y1="794.9" x2="976.2" y2="794.9" stroke="#222" stroke-width="1.6" stroke-linecap="butt"/>
<text x="966.6" y="802.5" font-family='"Liberation Serif", "DejaVu Serif", serif' font-size="22.6" font-weight="bold" font-style="normal" text-anchor="end" fill="#0a0a0a">120</text>
<line x1="971.8" y1="940.57" x2="976.2" y2="940.57" stroke="#222" stroke-width="1.6" stroke-linecap="butt"/>
<text x="966.6" y="948.17" font-family='"Liberation Serif", "DejaVu Serif", serif' font-size="22.6" font-weight="bold" font-style="normal" text-anchor="end" fill="#0a0a0a">80</text>
<line x1="971.8" y1="1086.23" x2="976.2" y2="1086.23" stroke="#222" stroke-width="1.6" stroke-linecap="butt"/>
<text x="966.6" y="1093.83" font-family='"Liberation Serif", "DejaVu Serif", serif' font-size="22.6" font-weight="bold" font-style="normal" text-anchor="end" fill="#0a0a0a">40</text>
<line x1="971.8" y1="1231.9" x2="976.2" y2="1231.9" stroke="#222" stroke-width="1.6" stroke-linecap="butt"/>
<text x="966.6" y="1239.5" font-family='"Liberation Serif", "DejaVu Serif", serif' font-size="22.6" font-weight="bold" font-style="normal" text-anchor="end" fill="#0a0a0a">0.0</text>
<line x1="1038.2" y1="1231.9" x2="1038.2" y2="1236.5" stroke="#222" stroke-width="1.6" stroke-linecap="butt"/>
<text x="1043.2" y="1241.3" font-family='"Liberation Serif", "DejaVu Serif", serif' font-size="20.2" font-weight="bold" font-style="normal" text-anchor="end" fill="#0a0a0a" transform="rotate(-90 1043.2 1241.3)">Fall 2022</text>
<line x1="1106.75" y1="1231.9" x2="1106.75" y2="1236.5" stroke="#222" stroke-width="1.6" stroke-linecap="butt"/>
<text x="1111.75" y="1241.3" font-family='"Liberation Serif", "DejaVu Serif", serif' font-size="20.2" font-weight="bold" font-style="normal" text-anchor="end" fill="#0a0a0a" transform="rotate(-90 1111.75 1241.3)">Spring 2023</text>
<line x1="1175.3" y1="1231.9" x2="1175.3" y2="1236.5" stroke="#222" stroke-width="1.6" stroke-linecap="butt"/>
<text x="1180.3" y="1241.3" font-family='"Liberation Serif", "DejaVu Serif", serif' font-size="20.2" font-weight="bold" font-style="normal" text-anchor="end" fill="#0a0a0a" transform="rotate(-90 1180.3 1241.3)">Summer 2023</text>
<line x1="1243.85" y1="1231.9" x2="1243.85" y2="1236.5" stroke="#222" stroke-width="1.6" stroke-linecap="butt"/>
<text x="1248.85" y="1241.3" font-family='"Liberation Serif", "DejaVu Serif", serif' font-size="20.2" font-weight="bold" font-style="normal" text-anchor="end" fill="#0a0a0a" transform="rotate(-90 1248.85 1241.3)">Fall 2023</text>
<line x1="1312.4" y1="1231.9" x2="1312.4" y2="1236.5" stroke="#222" stroke-width="1.6" stroke-linecap="butt"/>
<text x="1317.4" y="1241.3" font-family='"Liberation Serif", "DejaVu Serif", serif' font-size="20.2" font-weight="bold" font-style="normal" text-anchor="end" fill="#0a0a0a" transform="rotate(-90 1317.4 1241.3)">Spring 2024</text>
<line x1="1449.5" y1="1231.9" x2="1449.5" y2="1236.5" stroke="#222" stroke-width="1.6" stroke-linecap="butt"/>
<text x="1454.5" y="1241.3" font-family='"Liberation Serif", "DejaVu Serif", serif' font-size="20.2" font-weight="bold" font-style="normal" text-anchor="end" fill="#0a0a0a" transform="rotate(-90 1454.5 1241.3)">3.75</text>
<line x1="1518.05" y1="1231.9" x2="1518.05" y2="1236.5" stroke="#222" stroke-width="1.6" stroke-linecap="butt"/>
<text x="1523.05" y="1241.3" font-family='"Liberation Serif", "DejaVu Serif", serif' font-size="20.2" font-weight="bold" font-style="normal" text-anchor="end" fill="#0a0a0a" transform="rotate(-90 1523.05 1241.3)">7.50</text>
<line x1="1586.6" y1="1231.9" x2="1586.6" y2="1236.5" stroke="#222" stroke-width="1.6" stroke-linecap="butt"/>
<text x="1591.6" y="1241.3" font-family='"Liberation Serif", "DejaVu Serif", serif' font-size="20.2" font-weight="bold" font-style="normal" text-anchor="end" fill="#0a0a0a" transform="rotate(-90 1591.6 1241.3)">11.25</text>
<line x1="1380.95" y1="1231.9" x2="1380.95" y2="1235.1" stroke="#444" stroke-width="1.3" stroke-linecap="butt"/>
<text x="1175.3" y="1423.9" font-family='"Liberation Serif", "DejaVu Serif", serif' font-size="24" font-weight="bold" font-style="normal" text-anchor="middle" fill="#0a0a0a">Season</text>
<text x="1518.05" y="1335.1" font-family='"Liberation Serif", "DejaVu Serif", serif' font-size="24" font-weight="bold" font-style="normal" text-anchor="middle" fill="#0a0a0a">Si rate</text>
<text x="1518.05" y="1362.1" font-family='"Liberation Serif", "DejaVu Serif", serif' font-size="24" font-weight="bold" font-style="normal" text-anchor="middle" fill="#0a0a0a">(mg per plant)</text>
<text x="983.2" y="803.5" font-family='"Liberation Serif", "DejaVu Serif", serif' font-size="23" font-weight="bold" font-style="normal" text-anchor="start" fill="#0a0a0a">Se**</text>
<text x="985" y="828.7" font-family='"Liberation Serif", "DejaVu Serif", serif' font-size="23" font-weight="bold" font-style="normal" text-anchor="start" fill="#0a0a0a">Si<tspan dy="-8.5" font-family='"DejaVu Sans", "Liberation Sans", sans-serif' font-size="17" font-weight="normal" font-style="italic">ns</tspan></text>
<text x="985" y="855.5" font-family='"Liberation Serif", "DejaVu Serif", serif' font-size="23" font-weight="bold" font-style="normal" text-anchor="start" fill="#0a0a0a">SexSi<tspan dy="-8.5" font-family='"DejaVu Sans", "Liberation Sans", sans-serif' font-size="17" font-weight="normal" font-style="italic">ns</tspan></text>
<text x="1290.9" y="750.5" font-family='"Liberation Serif", "DejaVu Serif", serif' font-size="29.5" font-weight="bold" font-style="italic" text-anchor="middle" fill="#0a0a0a">High P</text>
<text x="842.2" y="751.1" font-family='"Liberation Serif", "DejaVu Serif", serif' font-size="28" font-weight="bold" font-style="normal" text-anchor="start" fill="#0a0a0a">e)</text>
<text x="885.2" y="1013.4" font-family='"Liberation Serif", "DejaVu Serif", serif' font-size="26.4" font-weight="bold" font-style="normal" text-anchor="middle" fill="#0a0a0a" transform="rotate(-90 885.2 1013.4)">Magnesium concentration</text>
<text x="921.5" y="1010.4" font-family='"Liberation Serif", "DejaVu Serif", serif' font-size="26.4" font-weight="bold" font-style="normal" text-anchor="middle" fill="#0a0a0a" transform="rotate(-90 921.5 1010.4)">(mg kg<tspan dy="-9.5" font-family='"DejaVu Sans", "Liberation Sans", sans-serif' font-size="18.48" font-weight="normal">−1</tspan><tspan dy="9.5">)</tspan></text>
</g>
<g>
<rect x="1838.8" y="1115.1" width="64" height="116.8" fill="#ffffff" stroke="#161616" stroke-width="1.25"/>
<rect x="1907.35" y="1084.9" width="64" height="147" fill="#ADD8E6" stroke="#161616" stroke-width="1.25"/>
<rect x="1975.9" y="982.7" width="64" height="249.2" fill="#000086" stroke="#161616" stroke-width="1.25"/>
<rect x="2044.45" y="963" width="64" height="268.9" fill="#DAA520" stroke="#161616" stroke-width="1.25"/>
<rect x="2113" y="922.7" width="64" height="309.2" fill="#FFA500" stroke="#161616" stroke-width="1.25"/>
<rect x="2250.1" y="983.5" width="64" height="248.4" fill="#98FB98" stroke="#161616" stroke-width="1.25"/>
<rect x="2318.65" y="1033.4" width="64" height="198.5" fill="#3CB371" stroke="#161616" stroke-width="1.25"/>
<rect x="2387.2" y="1024.6" width="64" height="207.3" fill="#228B22" stroke="#161616" stroke-width="1.25"/>
<line x1="1870.8" y1="1091.7" x2="1870.8" y2="1138" stroke="#0a0a0a" stroke-width="3" stroke-linecap="butt"/>
<line x1="1864.05" y1="1091.7" x2="1877.55" y2="1091.7" stroke="#0a0a0a" stroke-width="2.3" stroke-linecap="butt"/>
<line x1="1864.05" y1="1138" x2="1877.55" y2="1138" stroke="#0a0a0a" stroke-width="2.3" stroke-linecap="butt"/>
<text x="1870.8" y="1085.4" font-family='"Liberation Serif", "DejaVu Serif", serif' font-size="21.5" font-weight="bold" font-style="normal" text-anchor="middle" fill="#0a0a0a">b</text>
<line x1="1939.35" y1="1038.6" x2="1939.35" y2="1132.6" stroke="#0a0a0a" stroke-width="3" stroke-linecap="butt"/>
<line x1="1932.6" y1="1038.6" x2="1946.1" y2="1038.6" stroke="#0a0a0a" stroke-width="2.3" stroke-linecap="butt"/>
<line x1="1932.6" y1="1132.6" x2="1946.1" y2="1132.6" stroke="#0a0a0a" stroke-width="2.3" stroke-linecap="butt"/>
<text x="1939.35" y="1032.3" font-family='"Liberation Serif", "DejaVu Serif", serif' font-size="21.5" font-weight="bold" font-style="normal" text-anchor="middle" fill="#0a0a0a">b</text>
<line x1="2007.9" y1="944.4" x2="2007.9" y2="1023" stroke="#0a0a0a" stroke-width="3" stroke-linecap="butt"/>
<line x1="2001.15" y1="944.4" x2="2014.65" y2="944.4" stroke="#0a0a0a" stroke-width="2.3" stroke-linecap="butt"/>
<line x1="2001.15" y1="1023" x2="2014.65" y2="1023" stroke="#0a0a0a" stroke-width="2.3" stroke-linecap="butt"/>
<text x="2007.9" y="938.1" font-family='"Liberation Serif", "DejaVu Serif", serif' font-size="21.5" font-weight="bold" font-style="normal" text-anchor="middle" fill="#0a0a0a">a</text>
<line x1="2076.45" y1="870.1" x2="2076.45" y2="1054.8" stroke="#0a0a0a" stroke-width="3" stroke-linecap="butt"/>
<line x1="2069.7" y1="870.1" x2="2083.2" y2="870.1" stroke="#0a0a0a" stroke-width="2.3" stroke-linecap="butt"/>
<line x1="2069.7" y1="1054.8" x2="2083.2" y2="1054.8" stroke="#0a0a0a" stroke-width="2.3" stroke-linecap="butt"/>
<text x="2076.45" y="863.8" font-family='"Liberation Serif", "DejaVu Serif", serif' font-size="21.5" font-weight="bold" font-style="normal" text-anchor="middle" fill="#0a0a0a">a</text>
<line x1="2145" y1="816.3" x2="2145" y2="1029.7" stroke="#0a0a0a" stroke-width="3" stroke-linecap="butt"/>
<line x1="2138.25" y1="816.3" x2="2151.75" y2="816.3" stroke="#0a0a0a" stroke-width="2.3" stroke-linecap="butt"/>
<line x1="2138.25" y1="1029.7" x2="2151.75" y2="1029.7" stroke="#0a0a0a" stroke-width="2.3" stroke-linecap="butt"/>
<text x="2145" y="810" font-family='"Liberation Serif", "DejaVu Serif", serif' font-size="21.5" font-weight="bold" font-style="normal" text-anchor="middle" fill="#0a0a0a">a</text>
<line x1="2282.1" y1="847.2" x2="2282.1" y2="1120.5" stroke="#0a0a0a" stroke-width="2" stroke-linecap="butt"/>
<line x1="2275.85" y1="847.2" x2="2288.35" y2="847.2" stroke="#0a0a0a" stroke-width="2" stroke-linecap="butt"/>
<line x1="2275.85" y1="1120.5" x2="2288.35" y2="1120.5" stroke="#0a0a0a" stroke-width="2" stroke-linecap="butt"/>
<line x1="2350.65" y1="967.8" x2="2350.65" y2="1099.6" stroke="#0a0a0a" stroke-width="2.2" stroke-linecap="butt"/>
<line x1="2344.4" y1="967.8" x2="2356.9" y2="967.8" stroke="#0a0a0a" stroke-width="2.2" stroke-linecap="butt"/>
<line x1="2344.4" y1="1099.6" x2="2356.9" y2="1099.6" stroke="#0a0a0a" stroke-width="2.2" stroke-linecap="butt"/>
<line x1="2419.2" y1="941.8" x2="2419.2" y2="1107.1" stroke="#0a0a0a" stroke-width="2" stroke-linecap="butt"/>
<line x1="2412.95" y1="941.8" x2="2425.45" y2="941.8" stroke="#0a0a0a" stroke-width="2" stroke-linecap="butt"/>
<line x1="2412.95" y1="1107.1" x2="2425.45" y2="1107.1" stroke="#0a0a0a" stroke-width="2" stroke-linecap="butt"/>
<line x1="1808.8" y1="794.4" x2="1808.8" y2="1232.3" stroke="#444" stroke-width="1.1" stroke-linecap="butt"/>
<line x1="1808.25" y1="1231.9" x2="2481.8" y2="1231.9" stroke="#e6e6e6" stroke-width="0.8" stroke-linecap="butt"/>
<line x1="1804.4" y1="794.9" x2="1808.8" y2="794.9" stroke="#222" stroke-width="1.6" stroke-linecap="butt"/>
<text x="1799.2" y="802.5" font-family='"Liberation Serif", "DejaVu Serif", serif' font-size="22.6" font-weight="bold" font-style="normal" text-anchor="end" fill="#0a0a0a">120</text>
<line x1="1804.4" y1="940.57" x2="1808.8" y2="940.57" stroke="#222" stroke-width="1.6" stroke-linecap="butt"/>
<text x="1799.2" y="948.17" font-family='"Liberation Serif", "DejaVu Serif", serif' font-size="22.6" font-weight="bold" font-style="normal" text-anchor="end" fill="#0a0a0a">80</text>
<line x1="1804.4" y1="1086.23" x2="1808.8" y2="1086.23" stroke="#222" stroke-width="1.6" stroke-linecap="butt"/>
<text x="1799.2" y="1093.83" font-family='"Liberation Serif", "DejaVu Serif", serif' font-size="22.6" font-weight="bold" font-style="normal" text-anchor="end" fill="#0a0a0a">40</text>
<line x1="1804.4" y1="1231.9" x2="1808.8" y2="1231.9" stroke="#222" stroke-width="1.6" stroke-linecap="butt"/>
<text x="1799.2" y="1239.5" font-family='"Liberation Serif", "DejaVu Serif", serif' font-size="22.6" font-weight="bold" font-style="normal" text-anchor="end" fill="#0a0a0a">0.0</text>
<line x1="1870.8" y1="1231.9" x2="1870.8" y2="1236.5" stroke="#222" stroke-width="1.6" stroke-linecap="butt"/>
<text x="1875.8" y="1241.3" font-family='"Liberation Serif", "DejaVu Serif", serif' font-size="20.2" font-weight="bold" font-style="normal" text-anchor="end" fill="#0a0a0a" transform="rotate(-90 1875.8 1241.3)">Fall 2022</text>
<line x1="1939.35" y1="1231.9" x2="1939.35" y2="1236.5" stroke="#222" stroke-width="1.6" stroke-linecap="butt"/>
<text x="1944.35" y="1241.3" font-family='"Liberation Serif", "DejaVu Serif", serif' font-size="20.2" font-weight="bold" font-style="normal" text-anchor="end" fill="#0a0a0a" transform="rotate(-90 1944.35 1241.3)">Spring 2023</text>
<line x1="2007.9" y1="1231.9" x2="2007.9" y2="1236.5" stroke="#222" stroke-width="1.6" stroke-linecap="butt"/>
<text x="2012.9" y="1241.3" font-family='"Liberation Serif", "DejaVu Serif", serif' font-size="20.2" font-weight="bold" font-style="normal" text-anchor="end" fill="#0a0a0a" transform="rotate(-90 2012.9 1241.3)">Summer 2023</text>
<line x1="2076.45" y1="1231.9" x2="2076.45" y2="1236.5" stroke="#222" stroke-width="1.6" stroke-linecap="butt"/>
<text x="2081.45" y="1241.3" font-family='"Liberation Serif", "DejaVu Serif", serif' font-size="20.2" font-weight="bold" font-style="normal" text-anchor="end" fill="#0a0a0a" transform="rotate(-90 2081.45 1241.3)">Fall 2023</text>
<line x1="2145" y1="1231.9" x2="2145" y2="1236.5" stroke="#222" stroke-width="1.6" stroke-linecap="butt"/>
<text x="2150" y="1241.3" font-family='"Liberation Serif", "DejaVu Serif", serif' font-size="20.2" font-weight="bold" font-style="normal" text-anchor="end" fill="#0a0a0a" transform="rotate(-90 2150 1241.3)">Spring 2024</text>
<line x1="2282.1" y1="1231.9" x2="2282.1" y2="1236.5" stroke="#222" stroke-width="1.6" stroke-linecap="butt"/>
<text x="2287.1" y="1241.3" font-family='"Liberation Serif", "DejaVu Serif", serif' font-size="20.2" font-weight="bold" font-style="normal" text-anchor="end" fill="#0a0a0a" transform="rotate(-90 2287.1 1241.3)">3.75</text>
<line x1="2350.65" y1="1231.9" x2="2350.65" y2="1236.5" stroke="#222" stroke-width="1.6" stroke-linecap="butt"/>
<text x="2355.65" y="1241.3" font-family='"Liberation Serif", "DejaVu Serif", serif' font-size="20.2" font-weight="bold" font-style="normal" text-anchor="end" fill="#0a0a0a" transform="rotate(-90 2355.65 1241.3)">7.50</text>
<line x1="2419.2" y1="1231.9" x2="2419.2" y2="1236.5" stroke="#222" stroke-width="1.6" stroke-linecap="butt"/>
<text x="2424.2" y="1241.3" font-family='"Liberation Serif", "DejaVu Serif", serif' font-size="20.2" font-weight="bold" font-style="normal" text-anchor="end" fill="#0a0a0a" transform="rotate(-90 2424.2 1241.3)">11.25</text>
<line x1="2213.55" y1="1231.9" x2="2213.55" y2="1235.1" stroke="#444" stroke-width="1.3" stroke-linecap="butt"/>
<text x="2007.9" y="1423.9" font-family='"Liberation Serif", "DejaVu Serif", serif' font-size="24" font-weight="bold" font-style="normal" text-anchor="middle" fill="#0a0a0a">Season</text>
<text x="2350.65" y="1335.1" font-family='"Liberation Serif", "DejaVu Serif", serif' font-size="24" font-weight="bold" font-style="normal" text-anchor="middle" fill="#0a0a0a">Si rate</text>
<text x="2350.65" y="1362.1" font-family='"Liberation Serif", "DejaVu Serif", serif' font-size="24" font-weight="bold" font-style="normal" text-anchor="middle" fill="#0a0a0a">(mg per plant)</text>
<text x="1815.8" y="803.5" font-family='"Liberation Serif", "DejaVu Serif", serif' font-size="23" font-weight="bold" font-style="normal" text-anchor="start" fill="#0a0a0a">Se**</text>
<text x="1817.6" y="828.7" font-family='"Liberation Serif", "DejaVu Serif", serif' font-size="23" font-weight="bold" font-style="normal" text-anchor="start" fill="#0a0a0a">Si<tspan dy="-8.5" font-family='"DejaVu Sans", "Liberation Sans", sans-serif' font-size="17" font-weight="normal" font-style="italic">ns</tspan></text>
<text x="1817.6" y="855.5" font-family='"Liberation Serif", "DejaVu Serif", serif' font-size="23" font-weight="bold" font-style="normal" text-anchor="start" fill="#0a0a0a">SexSi<tspan dy="-8.5" font-family='"DejaVu Sans", "Liberation Sans", sans-serif' font-size="17" font-weight="normal" font-style="italic">ns</tspan></text>
<text x="2117.8" y="750.5" font-family='"Liberation Serif", "DejaVu Serif", serif' font-size="29.5" font-weight="bold" font-style="italic" text-anchor="middle" fill="#0a0a0a">Low P</text>
<text x="1674.8" y="751.1" font-family='"Liberation Serif", "DejaVu Serif", serif' font-size="28" font-weight="bold" font-style="normal" text-anchor="start" fill="#0a0a0a">f)</text>
<text x="1717.8" y="1013.4" font-family='"Liberation Serif", "DejaVu Serif", serif' font-size="26.4" font-weight="bold" font-style="normal" text-anchor="middle" fill="#0a0a0a" transform="rotate(-90 1717.8 1013.4)">Magnesium concentration</text>
<text x="1754.1" y="1010.4" font-family='"Liberation Serif", "DejaVu Serif", serif' font-size="26.4" font-weight="bold" font-style="normal" text-anchor="middle" fill="#0a0a0a" transform="rotate(-90 1754.1 1010.4)">(mg kg<tspan dy="-9.5" font-family='"DejaVu Sans", "Liberation Sans", sans-serif' font-size="18.48" font-weight="normal">−1</tspan><tspan dy="9.5">)</tspan></text>
</g>
<g>
<rect x="174" y="1768.6" width="64" height="178.3" fill="#ffffff" stroke="#161616" stroke-width="1.25"/>
<rect x="242.55" y="1712.1" width="64" height="234.8" fill="#ADD8E6" stroke="#161616" stroke-width="1.25"/>
<rect x="311.1" y="1706.7" width="64" height="240.2" fill="#000086" stroke="#161616" stroke-width="1.25"/>
<rect x="379.65" y="1690" width="64" height="256.9" fill="#DAA520" stroke="#161616" stroke-width="1.25"/>
<rect x="448.2" y="1686.8" width="64" height="260.1" fill="#FFA500" stroke="#161616" stroke-width="1.25"/>
<rect x="585.3" y="1697.4" width="64" height="249.5" fill="#98FB98" stroke="#161616" stroke-width="1.25"/>
<rect x="653.85" y="1721.4" width="64" height="225.5" fill="#3CB371" stroke="#161616" stroke-width="1.25"/>
<rect x="722.4" y="1720.3" width="64" height="226.6" fill="#228B22" stroke="#161616" stroke-width="1.25"/>
<line x1="206" y1="1727.4" x2="206" y2="1809" stroke="#0a0a0a" stroke-width="2.5" stroke-linecap="butt"/>
<line x1="199.75" y1="1727.4" x2="212.25" y2="1727.4" stroke="#0a0a0a" stroke-width="2.3" stroke-linecap="butt"/>
<line x1="199.75" y1="1809" x2="212.25" y2="1809" stroke="#0a0a0a" stroke-width="2.3" stroke-linecap="butt"/>
<text x="206" y="1721.1" font-family='"Liberation Serif", "DejaVu Serif", serif' font-size="21.5" font-weight="bold" font-style="normal" text-anchor="middle" fill="#0a0a0a">b</text>
<line x1="274.55" y1="1644" x2="274.55" y2="1779.4" stroke="#0a0a0a" stroke-width="2.5" stroke-linecap="butt"/>
<line x1="268.3" y1="1644" x2="280.8" y2="1644" stroke="#0a0a0a" stroke-width="2.3" stroke-linecap="butt"/>
<line x1="268.3" y1="1779.4" x2="280.8" y2="1779.4" stroke="#0a0a0a" stroke-width="2.3" stroke-linecap="butt"/>
<text x="274.55" y="1637.7" font-family='"Liberation Serif", "DejaVu Serif", serif' font-size="21.5" font-weight="bold" font-style="normal" text-anchor="middle" fill="#0a0a0a">ab</text>
<line x1="343.1" y1="1660.1" x2="343.1" y2="1753.8" stroke="#0a0a0a" stroke-width="2.5" stroke-linecap="butt"/>
<line x1="336.85" y1="1660.1" x2="349.35" y2="1660.1" stroke="#0a0a0a" stroke-width="2.3" stroke-linecap="butt"/>
<line x1="336.85" y1="1753.8" x2="349.35" y2="1753.8" stroke="#0a0a0a" stroke-width="2.3" stroke-linecap="butt"/>
<text x="343.1" y="1653.8" font-family='"Liberation Serif", "DejaVu Serif", serif' font-size="21.5" font-weight="bold" font-style="normal" text-anchor="middle" fill="#0a0a0a">a</text>
<line x1="411.65" y1="1627.3" x2="411.65" y2="1753.8" stroke="#0a0a0a" stroke-width="2.5" stroke-linecap="butt"/>
<line x1="405.4" y1="1627.3" x2="417.9" y2="1627.3" stroke="#0a0a0a" stroke-width="2.3" stroke-linecap="butt"/>
<line x1="405.4" y1="1753.8" x2="417.9" y2="1753.8" stroke="#0a0a0a" stroke-width="2.3" stroke-linecap="butt"/>
<text x="411.65" y="1621" font-family='"Liberation Serif", "DejaVu Serif", serif' font-size="21.5" font-weight="bold" font-style="normal" text-anchor="middle" fill="#0a0a0a">a</text>
<line x1="480.2" y1="1637.2" x2="480.2" y2="1737" stroke="#0a0a0a" stroke-width="2.5" stroke-linecap="butt"/>
<line x1="473.95" y1="1637.2" x2="486.45" y2="1637.2" stroke="#0a0a0a" stroke-width="2.3" stroke-linecap="butt"/>
<line x1="473.95" y1="1737" x2="486.45" y2="1737" stroke="#0a0a0a" stroke-width="2.3" stroke-linecap="butt"/>
<text x="480.2" y="1630.9" font-family='"Liberation Serif", "DejaVu Serif", serif' font-size="21.5" font-weight="bold" font-style="normal" text-anchor="middle" fill="#0a0a0a">a</text>
<line x1="617.3" y1="1650.1" x2="617.3" y2="1745.7" stroke="#0a0a0a" stroke-width="3" stroke-linecap="butt"/>
<line x1="610.55" y1="1650.1" x2="624.05" y2="1650.1" stroke="#0a0a0a" stroke-width="2.3" stroke-linecap="butt"/>
<line x1="610.55" y1="1745.7" x2="624.05" y2="1745.7" stroke="#0a0a0a" stroke-width="2.3" stroke-linecap="butt"/>
<line x1="685.85" y1="1648.5" x2="685.85" y2="1794.3" stroke="#0a0a0a" stroke-width="3" stroke-linecap="butt"/>
<line x1="679.1" y1="1648.5" x2="692.6" y2="1648.5" stroke="#0a0a0a" stroke-width="2.3" stroke-linecap="butt"/>
<line x1="679.1" y1="1794.3" x2="692.6" y2="1794.3" stroke="#0a0a0a" stroke-width="2.3" stroke-linecap="butt"/>
<line x1="754.4" y1="1662" x2="754.4" y2="1779.1" stroke="#0a0a0a" stroke-width="3" stroke-linecap="butt"/>
<line x1="747.65" y1="1662" x2="761.15" y2="1662" stroke="#0a0a0a" stroke-width="2.3" stroke-linecap="butt"/>
<line x1="747.65" y1="1779.1" x2="761.15" y2="1779.1" stroke="#0a0a0a" stroke-width="2.3" stroke-linecap="butt"/>
<line x1="144" y1="1509.4" x2="144" y2="1947.9" stroke="#0a0a0a" stroke-width="1.9" stroke-linecap="butt"/>
<line x1="143.05" y1="1946.9" x2="817" y2="1946.9" stroke="#0a0a0a" stroke-width="2" stroke-linecap="butt"/>
<line x1="139.6" y1="1509.9" x2="144" y2="1509.9" stroke="#222" stroke-width="1.6" stroke-linecap="butt"/>
<text x="134.4" y="1517.5" font-family='"Liberation Serif", "DejaVu Serif", serif' font-size="22.6" font-weight="bold" font-style="normal" text-anchor="end" fill="#0a0a0a">30</text>
<line x1="139.6" y1="1655.57" x2="144" y2="1655.57" stroke="#222" stroke-width="1.6" stroke-linecap="butt"/>
<text x="134.4" y="1663.17" font-family='"Liberation Serif", "DejaVu Serif", serif' font-size="22.6" font-weight="bold" font-style="normal" text-anchor="end" fill="#0a0a0a">20</text>
<line x1="139.6" y1="1801.23" x2="144" y2="1801.23" stroke="#222" stroke-width="1.6" stroke-linecap="butt"/>
<text x="134.4" y="1808.83" font-family='"Liberation Serif", "DejaVu Serif", serif' font-size="22.6" font-weight="bold" font-style="normal" text-anchor="end" fill="#0a0a0a">10</text>
<line x1="139.6" y1="1946.9" x2="144" y2="1946.9" stroke="#222" stroke-width="1.6" stroke-linecap="butt"/>
<text x="134.4" y="1954.5" font-family='"Liberation Serif", "DejaVu Serif", serif' font-size="22.6" font-weight="bold" font-style="normal" text-anchor="end" fill="#0a0a0a">0.0</text>
<line x1="206" y1="1946.9" x2="206" y2="1951.5" stroke="#222" stroke-width="1.6" stroke-linecap="butt"/>
<text x="211" y="1956.3" font-family='"Liberation Serif", "DejaVu Serif", serif' font-size="20.2" font-weight="bold" font-style="normal" text-anchor="end" fill="#0a0a0a" transform="rotate(-90 211 1956.3)">Fall 2022</text>
<line x1="274.55" y1="1946.9" x2="274.55" y2="1951.5" stroke="#222" stroke-width="1.6" stroke-linecap="butt"/>
<text x="279.55" y="1956.3" font-family='"Liberation Serif", "DejaVu Serif", serif' font-size="20.2" font-weight="bold" font-style="normal" text-anchor="end" fill="#0a0a0a" transform="rotate(-90 279.55 1956.3)">Spring 2023</text>
<line x1="343.1" y1="1946.9" x2="343.1" y2="1951.5" stroke="#222" stroke-width="1.6" stroke-linecap="butt"/>
<text x="348.1" y="1956.3" font-family='"Liberation Serif", "DejaVu Serif", serif' font-size="20.2" font-weight="bold" font-style="normal" text-anchor="end" fill="#0a0a0a" transform="rotate(-90 348.1 1956.3)">Summer 2023</text>
<line x1="411.65" y1="1946.9" x2="411.65" y2="1951.5" stroke="#222" stroke-width="1.6" stroke-linecap="butt"/>
<text x="416.65" y="1956.3" font-family='"Liberation Serif", "DejaVu Serif", serif' font-size="20.2" font-weight="bold" font-style="normal" text-anchor="end" fill="#0a0a0a" transform="rotate(-90 416.65 1956.3)">Fall 2023</text>
<line x1="480.2" y1="1946.9" x2="480.2" y2="1951.5" stroke="#222" stroke-width="1.6" stroke-linecap="butt"/>
<text x="485.2" y="1956.3" font-family='"Liberation Serif", "DejaVu Serif", serif' font-size="20.2" font-weight="bold" font-style="normal" text-anchor="end" fill="#0a0a0a" transform="rotate(-90 485.2 1956.3)">Spring 2024</text>
<line x1="617.3" y1="1946.9" x2="617.3" y2="1951.5" stroke="#222" stroke-width="1.6" stroke-linecap="butt"/>
<text x="622.3" y="1956.3" font-family='"Liberation Serif", "DejaVu Serif", serif' font-size="20.2" font-weight="bold" font-style="normal" text-anchor="end" fill="#0a0a0a" transform="rotate(-90 622.3 1956.3)">3.75</text>
<line x1="685.85" y1="1946.9" x2="685.85" y2="1951.5" stroke="#222" stroke-width="1.6" stroke-linecap="butt"/>
<text x="690.85" y="1956.3" font-family='"Liberation Serif", "DejaVu Serif", serif' font-size="20.2" font-weight="bold" font-style="normal" text-anchor="end" fill="#0a0a0a" transform="rotate(-90 690.85 1956.3)">7.50</text>
<line x1="754.4" y1="1946.9" x2="754.4" y2="1951.5" stroke="#222" stroke-width="1.6" stroke-linecap="butt"/>
<text x="759.4" y="1956.3" font-family='"Liberation Serif", "DejaVu Serif", serif' font-size="20.2" font-weight="bold" font-style="normal" text-anchor="end" fill="#0a0a0a" transform="rotate(-90 759.4 1956.3)">11.25</text>
<line x1="548.75" y1="1946.9" x2="548.75" y2="1950.1" stroke="#444" stroke-width="1.3" stroke-linecap="butt"/>
<text x="343.1" y="2138.9" font-family='"Liberation Serif", "DejaVu Serif", serif' font-size="24" font-weight="bold" font-style="normal" text-anchor="middle" fill="#0a0a0a">Season</text>
<text x="685.85" y="2050.1" font-family='"Liberation Serif", "DejaVu Serif", serif' font-size="24" font-weight="bold" font-style="normal" text-anchor="middle" fill="#0a0a0a">Si rate</text>
<text x="685.85" y="2077.1" font-family='"Liberation Serif", "DejaVu Serif", serif' font-size="24" font-weight="bold" font-style="normal" text-anchor="middle" fill="#0a0a0a">(mg per plant)</text>
<text x="151" y="1518.5" font-family='"Liberation Serif", "DejaVu Serif", serif' font-size="23" font-weight="bold" font-style="normal" text-anchor="start" fill="#0a0a0a">Se**</text>
<text x="152.8" y="1543.7" font-family='"Liberation Serif", "DejaVu Serif", serif' font-size="23" font-weight="bold" font-style="normal" text-anchor="start" fill="#0a0a0a">Si<tspan dy="-8.5" font-family='"DejaVu Sans", "Liberation Sans", sans-serif' font-size="17" font-weight="normal" font-style="italic">ns</tspan></text>
<text x="152.8" y="1570.5" font-family='"Liberation Serif", "DejaVu Serif", serif' font-size="23" font-weight="bold" font-style="normal" text-anchor="start" fill="#0a0a0a">SexSi<tspan dy="-8.5" font-family='"DejaVu Sans", "Liberation Sans", sans-serif' font-size="17" font-weight="normal" font-style="italic">ns</tspan></text>
<text x="453" y="1465.5" font-family='"Liberation Serif", "DejaVu Serif", serif' font-size="29.5" font-weight="bold" font-style="italic" text-anchor="middle" fill="#0a0a0a">Low P</text>
<text x="10" y="1466.1" font-family='"Liberation Serif", "DejaVu Serif", serif' font-size="28" font-weight="bold" font-style="normal" text-anchor="start" fill="#0a0a0a">g)</text>
<text x="61" y="1728.4" font-family='"Liberation Serif", "DejaVu Serif", serif' font-size="26.4" font-weight="bold" font-style="normal" text-anchor="middle" fill="#0a0a0a" transform="rotate(-90 61 1728.4)">Sulfur concentration</text>
<text x="96" y="1725.4" font-family='"Liberation Serif", "DejaVu Serif", serif' font-size="26.4" font-weight="bold" font-style="normal" text-anchor="middle" fill="#0a0a0a" transform="rotate(-90 96 1725.4)">(mg kg<tspan dy="-9.5" font-family='"DejaVu Sans", "Liberation Sans", sans-serif' font-size="18.48" font-weight="normal">−1</tspan><tspan dy="9.5">)</tspan></text>
</g>
<g>
<rect x="1023.88" y="1869.7" width="32.65" height="210.9" fill="#ffffff" stroke="#161616" stroke-width="1"/>
<rect x="1056.53" y="1922.6" width="32.65" height="158" fill="#ADD8E6" stroke="#161616" stroke-width="1"/>
<rect x="1089.17" y="1872.3" width="32.65" height="208.3" fill="#000086" stroke="#161616" stroke-width="1"/>
<rect x="1121.83" y="1792.3" width="32.65" height="288.3" fill="#90EE90" stroke="#161616" stroke-width="1"/>
<rect x="1154.47" y="1759.2" width="32.65" height="321.4" fill="#FFA500" stroke="#161616" stroke-width="1"/>
<rect x="1227.08" y="1881.2" width="32.65" height="199.4" fill="#ffffff" stroke="#161616" stroke-width="1"/>
<rect x="1259.73" y="1867.8" width="32.65" height="212.8" fill="#ADD8E6" stroke="#161616" stroke-width="1"/>
<rect x="1292.38" y="1832.7" width="32.65" height="247.9" fill="#000086" stroke="#161616" stroke-width="1"/>
<rect x="1325.03" y="1777.5" width="32.65" height="303.1" fill="#90EE90" stroke="#161616" stroke-width="1"/>
<rect x="1357.67" y="1807.2" width="32.65" height="273.4" fill="#FFA500" stroke="#161616" stroke-width="1"/>
<rect x="1430.78" y="1832.7" width="32.65" height="247.9" fill="#ffffff" stroke="#161616" stroke-width="1"/>
<rect x="1463.43" y="1799.2" width="32.65" height="281.4" fill="#ADD8E6" stroke="#161616" stroke-width="1"/>
<rect x="1496.08" y="1821.1" width="32.65" height="259.5" fill="#000086" stroke="#161616" stroke-width="1"/>
<rect x="1528.73" y="1792.2" width="32.65" height="288.4" fill="#90EE90" stroke="#161616" stroke-width="1"/>
<rect x="1561.38" y="1805.9" width="32.65" height="274.7" fill="#FFA500" stroke="#161616" stroke-width="1"/>
<line x1="1040.2" y1="1867.1" x2="1040.2" y2="1871.5" stroke="#0a0a0a" stroke-width="1.5" stroke-linecap="butt"/>
<line x1="1035.6" y1="1867.1" x2="1044.8" y2="1867.1" stroke="#0a0a0a" stroke-width="1.5" stroke-linecap="butt"/>
<line x1="1035.6" y1="1871.5" x2="1044.8" y2="1871.5" stroke="#0a0a0a" stroke-width="1.5" stroke-linecap="butt"/>
<text x="1040" y="1851.1" font-family='"Liberation Serif", "DejaVu Serif", serif' font-size="22.5" font-weight="bold" font-style="normal" text-anchor="middle" fill="#0a0a0a">bcA</text>
<line x1="1072.85" y1="1916.6" x2="1072.85" y2="1928.3" stroke="#0a0a0a" stroke-width="1.5" stroke-linecap="butt"/>
<line x1="1068.25" y1="1916.6" x2="1077.45" y2="1916.6" stroke="#0a0a0a" stroke-width="1.5" stroke-linecap="butt"/>
<line x1="1068.25" y1="1928.3" x2="1077.45" y2="1928.3" stroke="#0a0a0a" stroke-width="1.5" stroke-linecap="butt"/>
<text x="1072.9" y="1901.2" font-family='"Liberation Serif", "DejaVu Serif", serif' font-size="22.5" font-weight="bold" font-style="normal" text-anchor="middle" fill="#0a0a0a">cB</text>
<line x1="1105.5" y1="1864.5" x2="1105.5" y2="1880" stroke="#0a0a0a" stroke-width="1.5" stroke-linecap="butt"/>
<line x1="1100.9" y1="1864.5" x2="1110.1" y2="1864.5" stroke="#0a0a0a" stroke-width="1.5" stroke-linecap="butt"/>
<line x1="1100.9" y1="1880" x2="1110.1" y2="1880" stroke="#0a0a0a" stroke-width="1.5" stroke-linecap="butt"/>
<text x="1104.5" y="1849" font-family='"Liberation Serif", "DejaVu Serif", serif' font-size="22.5" font-weight="bold" font-style="normal" text-anchor="middle" fill="#0a0a0a">cA</text>
<line x1="1138.15" y1="1784.5" x2="1138.15" y2="1799.2" stroke="#0a0a0a" stroke-width="1.5" stroke-linecap="butt"/>
<line x1="1133.55" y1="1784.5" x2="1142.75" y2="1784.5" stroke="#0a0a0a" stroke-width="1.5" stroke-linecap="butt"/>
<line x1="1133.55" y1="1799.2" x2="1142.75" y2="1799.2" stroke="#0a0a0a" stroke-width="1.5" stroke-linecap="butt"/>
<text x="1135.2" y="1768.5" font-family='"Liberation Serif", "DejaVu Serif", serif' font-size="22.5" font-weight="bold" font-style="normal" text-anchor="middle" fill="#0a0a0a">abA</text>
<line x1="1170.8" y1="1745.8" x2="1170.8" y2="1772.4" stroke="#0a0a0a" stroke-width="1.5" stroke-linecap="butt"/>
<line x1="1166.2" y1="1745.8" x2="1175.4" y2="1745.8" stroke="#0a0a0a" stroke-width="1.5" stroke-linecap="butt"/>
<line x1="1166.2" y1="1772.4" x2="1175.4" y2="1772.4" stroke="#0a0a0a" stroke-width="1.5" stroke-linecap="butt"/>
<text x="1170.3" y="1729.4" font-family='"Liberation Serif", "DejaVu Serif", serif' font-size="22.5" font-weight="bold" font-style="normal" text-anchor="middle" fill="#0a0a0a">aA</text>
<line x1="1243.4" y1="1854.6" x2="1243.4" y2="1908.3" stroke="#0a0a0a" stroke-width="1.5" stroke-linecap="butt"/>
<line x1="1238.8" y1="1854.6" x2="1248" y2="1854.6" stroke="#0a0a0a" stroke-width="1.5" stroke-linecap="butt"/>
<line x1="1238.8" y1="1908.3" x2="1248" y2="1908.3" stroke="#0a0a0a" stroke-width="1.5" stroke-linecap="butt"/>
<text x="1243" y="1838" font-family='"Liberation Serif", "DejaVu Serif", serif' font-size="22.5" font-weight="bold" font-style="normal" text-anchor="middle" fill="#0a0a0a">bA</text>
<line x1="1276.05" y1="1849.5" x2="1276.05" y2="1887.6" stroke="#0a0a0a" stroke-width="1.5" stroke-linecap="butt"/>
<line x1="1271.45" y1="1849.5" x2="1280.65" y2="1849.5" stroke="#0a0a0a" stroke-width="1.5" stroke-linecap="butt"/>
<line x1="1271.45" y1="1887.6" x2="1280.65" y2="1887.6" stroke="#0a0a0a" stroke-width="1.5" stroke-linecap="butt"/>
<text x="1276.5" y="1832.2" font-family='"Liberation Serif", "DejaVu Serif", serif' font-size="22.5" font-weight="bold" font-style="normal" text-anchor="middle" fill="#0a0a0a">bB</text>
<line x1="1308.7" y1="1815.9" x2="1308.7" y2="1850.2" stroke="#0a0a0a" stroke-width="1.5" stroke-linecap="butt"/>
<line x1="1304.1" y1="1815.9" x2="1313.3" y2="1815.9" stroke="#0a0a0a" stroke-width="1.5" stroke-linecap="butt"/>
<line x1="1304.1" y1="1850.2" x2="1313.3" y2="1850.2" stroke="#0a0a0a" stroke-width="1.5" stroke-linecap="butt"/>
<text x="1308" y="1799.9" font-family='"Liberation Serif", "DejaVu Serif", serif' font-size="22.5" font-weight="bold" font-style="normal" text-anchor="middle" fill="#0a0a0a">abA</text>
<line x1="1341.35" y1="1754" x2="1341.35" y2="1800.7" stroke="#0a0a0a" stroke-width="1.5" stroke-linecap="butt"/>
<line x1="1336.75" y1="1754" x2="1345.95" y2="1754" stroke="#0a0a0a" stroke-width="1.5" stroke-linecap="butt"/>
<line x1="1336.75" y1="1800.7" x2="1345.95" y2="1800.7" stroke="#0a0a0a" stroke-width="1.5" stroke-linecap="butt"/>
<text x="1341.5" y="1737.3" font-family='"Liberation Serif", "DejaVu Serif", serif' font-size="22.5" font-weight="bold" font-style="normal" text-anchor="middle" fill="#0a0a0a">aA</text>
<line x1="1374" y1="1778.8" x2="1374" y2="1836" stroke="#0a0a0a" stroke-width="1.5" stroke-linecap="butt"/>
<line x1="1369.4" y1="1778.8" x2="1378.6" y2="1778.8" stroke="#0a0a0a" stroke-width="1.5" stroke-linecap="butt"/>
<line x1="1369.4" y1="1836" x2="1378.6" y2="1836" stroke="#0a0a0a" stroke-width="1.5" stroke-linecap="butt"/>
<text x="1373.5" y="1762.5" font-family='"Liberation Serif", "DejaVu Serif", serif' font-size="22.5" font-weight="bold" font-style="normal" text-anchor="middle" fill="#0a0a0a">abA</text>
<line x1="1447.1" y1="1819.3" x2="1447.1" y2="1846.4" stroke="#0a0a0a" stroke-width="1.5" stroke-linecap="butt"/>
<line x1="1442.5" y1="1819.3" x2="1451.7" y2="1819.3" stroke="#0a0a0a" stroke-width="1.5" stroke-linecap="butt"/>
<line x1="1442.5" y1="1846.4" x2="1451.7" y2="1846.4" stroke="#0a0a0a" stroke-width="1.5" stroke-linecap="butt"/>
<text x="1447" y="1802.5" font-family='"Liberation Serif", "DejaVu Serif", serif' font-size="22.5" font-weight="bold" font-style="normal" text-anchor="middle" fill="#0a0a0a">aA</text>
<line x1="1479.75" y1="1769" x2="1479.75" y2="1829.1" stroke="#0a0a0a" stroke-width="1.5" stroke-linecap="butt"/>
<line x1="1475.15" y1="1769" x2="1484.35" y2="1769" stroke="#0a0a0a" stroke-width="1.5" stroke-linecap="butt"/>
<line x1="1475.15" y1="1829.1" x2="1484.35" y2="1829.1" stroke="#0a0a0a" stroke-width="1.5" stroke-linecap="butt"/>
<text x="1479.3" y="1752.2" font-family='"Liberation Serif", "DejaVu Serif", serif' font-size="22.5" font-weight="bold" font-style="normal" text-anchor="middle" fill="#0a0a0a">aA</text>
<line x1="1512.4" y1="1804.3" x2="1512.4" y2="1836" stroke="#0a0a0a" stroke-width="1.5" stroke-linecap="butt"/>
<line x1="1507.8" y1="1804.3" x2="1517" y2="1804.3" stroke="#0a0a0a" stroke-width="1.5" stroke-linecap="butt"/>
<line x1="1507.8" y1="1836" x2="1517" y2="1836" stroke="#0a0a0a" stroke-width="1.5" stroke-linecap="butt"/>
<text x="1512.4" y="1787.6" font-family='"Liberation Serif", "DejaVu Serif", serif' font-size="22.5" font-weight="bold" font-style="normal" text-anchor="middle" fill="#0a0a0a">aA</text>
<line x1="1545.05" y1="1755.6" x2="1545.05" y2="1829.1" stroke="#0a0a0a" stroke-width="1.5" stroke-linecap="butt"/>
<line x1="1540.45" y1="1755.6" x2="1549.65" y2="1755.6" stroke="#0a0a0a" stroke-width="1.5" stroke-linecap="butt"/>
<line x1="1540.45" y1="1829.1" x2="1549.65" y2="1829.1" stroke="#0a0a0a" stroke-width="1.5" stroke-linecap="butt"/>
<text x="1545" y="1739.8" font-family='"Liberation Serif", "DejaVu Serif", serif' font-size="22.5" font-weight="bold" font-style="normal" text-anchor="middle" fill="#0a0a0a">aA</text>
<line x1="1577.7" y1="1795.6" x2="1577.7" y2="1818" stroke="#0a0a0a" stroke-width="1.5" stroke-linecap="butt"/>
<line x1="1573.1" y1="1795.6" x2="1582.3" y2="1795.6" stroke="#0a0a0a" stroke-width="1.5" stroke-linecap="butt"/>
<line x1="1573.1" y1="1818" x2="1582.3" y2="1818" stroke="#0a0a0a" stroke-width="1.5" stroke-linecap="butt"/>
<text x="1577.8" y="1779.3" font-family='"Liberation Serif", "DejaVu Serif", serif' font-size="22.5" font-weight="bold" font-style="normal" text-anchor="middle" fill="#0a0a0a">aA</text>
<line x1="972.8" y1="1546.5" x2="972.8" y2="2080.6" stroke="#777" stroke-width="1.3" stroke-linecap="butt"/>
<line x1="972.8" y1="2080.6" x2="1647" y2="2080.6" stroke="#dcdcdc" stroke-width="0.9" stroke-linecap="butt"/>
<text x="963" y="1554.1" font-family='"Liberation Serif", "DejaVu Serif", serif' font-size="22.5" font-weight="bold" font-style="normal" text-anchor="end" fill="#0a0a0a">30</text>
<line x1="968.4" y1="1724.53" x2="972.8" y2="1724.53" stroke="#333" stroke-width="1.4" stroke-linecap="butt"/>
<text x="963" y="1732.13" font-family='"Liberation Serif", "DejaVu Serif", serif' font-size="22.5" font-weight="bold" font-style="normal" text-anchor="end" fill="#0a0a0a">20</text>
<line x1="968.4" y1="1902.57" x2="972.8" y2="1902.57" stroke="#333" stroke-width="1.4" stroke-linecap="butt"/>
<text x="963" y="1910.17" font-family='"Liberation Serif", "DejaVu Serif", serif' font-size="22.5" font-weight="bold" font-style="normal" text-anchor="end" fill="#0a0a0a">10</text>
<text x="963" y="2088.2" font-family='"Liberation Serif", "DejaVu Serif", serif' font-size="22.5" font-weight="bold" font-style="normal" text-anchor="end" fill="#0a0a0a">0.0</text>
<line x1="1105.5" y1="2080.6" x2="1105.5" y2="2084.1" stroke="#aaa" stroke-width="1" stroke-linecap="butt"/>
<text x="1105.5" y="2104.4" font-family='"Liberation Serif", "DejaVu Serif", serif' font-size="23" font-weight="bold" font-style="normal" text-anchor="middle" fill="#0a0a0a">3.75</text>
<line x1="1308.7" y1="2080.6" x2="1308.7" y2="2084.1" stroke="#aaa" stroke-width="1" stroke-linecap="butt"/>
<text x="1308.7" y="2104.4" font-family='"Liberation Serif", "DejaVu Serif", serif' font-size="23" font-weight="bold" font-style="normal" text-anchor="middle" fill="#0a0a0a">7.50</text>
<line x1="1512.4" y1="2080.6" x2="1512.4" y2="2084.1" stroke="#aaa" stroke-width="1" stroke-linecap="butt"/>
<text x="1512.4" y="2104.4" font-family='"Liberation Serif", "DejaVu Serif", serif' font-size="23" font-weight="bold" font-style="normal" text-anchor="middle" fill="#0a0a0a">11.25</text>
<text x="1309.6" y="2132.9" font-family='"Liberation Sans", "DejaVu Sans", sans-serif' font-size="26.3" font-weight="bold" font-style="normal" text-anchor="middle" fill="#0a0a0a">Si rate (mg per plant)</text>
<text x="889.9" y="1812.35" font-family='"Liberation Sans", "DejaVu Sans", sans-serif' font-size="26.3" font-weight="bold" font-style="normal" text-anchor="middle" fill="#0a0a0a" transform="rotate(-90 889.9 1812.35)">Sulfur concentration</text>
<text x="924" y="1808.15" font-family='"Liberation Sans", "DejaVu Sans", sans-serif' font-size="26.3" font-weight="bold" font-style="normal" text-anchor="middle" fill="#0a0a0a" transform="rotate(-90 924 1808.15)">(mg kg<tspan dy="-9.5" font-family='"DejaVu Sans", "Liberation Sans", sans-serif' font-size="18.41" font-weight="normal">−1</tspan><tspan dy="9.5">)</tspan></text>
<text x="982.4" y="1556" font-family='"Liberation Serif", "DejaVu Serif", serif' font-size="23" font-weight="bold" font-style="normal" text-anchor="start" fill="#0a0a0a">Se*</text>
<text x="982.4" y="1582.9" font-family='"Liberation Serif", "DejaVu Serif", serif' font-size="23" font-weight="bold" font-style="normal" text-anchor="start" fill="#0a0a0a">Si**</text>
<text x="982.4" y="1609.3" font-family='"Liberation Serif", "DejaVu Serif", serif' font-size="23" font-weight="bold" font-style="normal" text-anchor="start" fill="#0a0a0a">SexSi*</text>
<text x="1282.2" y="1491.4" font-family='"Liberation Serif", "DejaVu Serif", serif' font-size="29.5" font-weight="bold" font-style="italic" text-anchor="middle" fill="#0a0a0a">Low P</text>
<text x="838.8" y="1491.7" font-family='"Liberation Serif", "DejaVu Serif", serif' font-size="28" font-weight="bold" font-style="normal" text-anchor="start" fill="#0a0a0a">h)</text>
<rect x="1429.3" y="1459.3" width="43.8" height="15.2" fill="#ffffff" stroke="#161616" stroke-width="1.3"/>
<text x="1490.7" y="1474.8" font-family='"DejaVu Sans", "Liberation Sans", sans-serif' font-size="21.6" font-weight="normal" font-style="normal" text-anchor="start" fill="#0a0a0a">Fall 2022</text>
<rect x="1429.3" y="1491.1" width="43.8" height="15.2" fill="#ADD8E6" stroke="#161616" stroke-width="1.3"/>
<text x="1490.7" y="1506.6" font-family='"DejaVu Sans", "Liberation Sans", sans-serif' font-size="21.6" font-weight="normal" font-style="normal" text-anchor="start" fill="#0a0a0a">Spring 2023</text>
<rect x="1429.3" y="1522.9" width="43.8" height="15.2" fill="#000086" stroke="#161616" stroke-width="1.3"/>
<text x="1490.7" y="1538.4" font-family='"DejaVu Sans", "Liberation Sans", sans-serif' font-size="21.6" font-weight="normal" font-style="normal" text-anchor="start" fill="#0a0a0a">Summer 2023</text>
<rect x="1429.3" y="1554.7" width="43.8" height="15.2" fill="#90EE90" stroke="#161616" stroke-width="1.3"/>
<text x="1490.7" y="1570.2" font-family='"DejaVu Sans", "Liberation Sans", sans-serif' font-size="21.6" font-weight="normal" font-style="normal" text-anchor="start" fill="#0a0a0a">Fall 2023</text>
<rect x="1429.3" y="1586.5" width="43.8" height="15.2" fill="#FFA500" stroke="#161616" stroke-width="1.3"/>
<text x="1490.7" y="1602" font-family='"DejaVu Sans", "Liberation Sans", sans-serif' font-size="21.6" font-weight="normal" font-style="normal" text-anchor="start" fill="#0a0a0a">Spring 2024</text>
</g>
</svg>
</body></html>
